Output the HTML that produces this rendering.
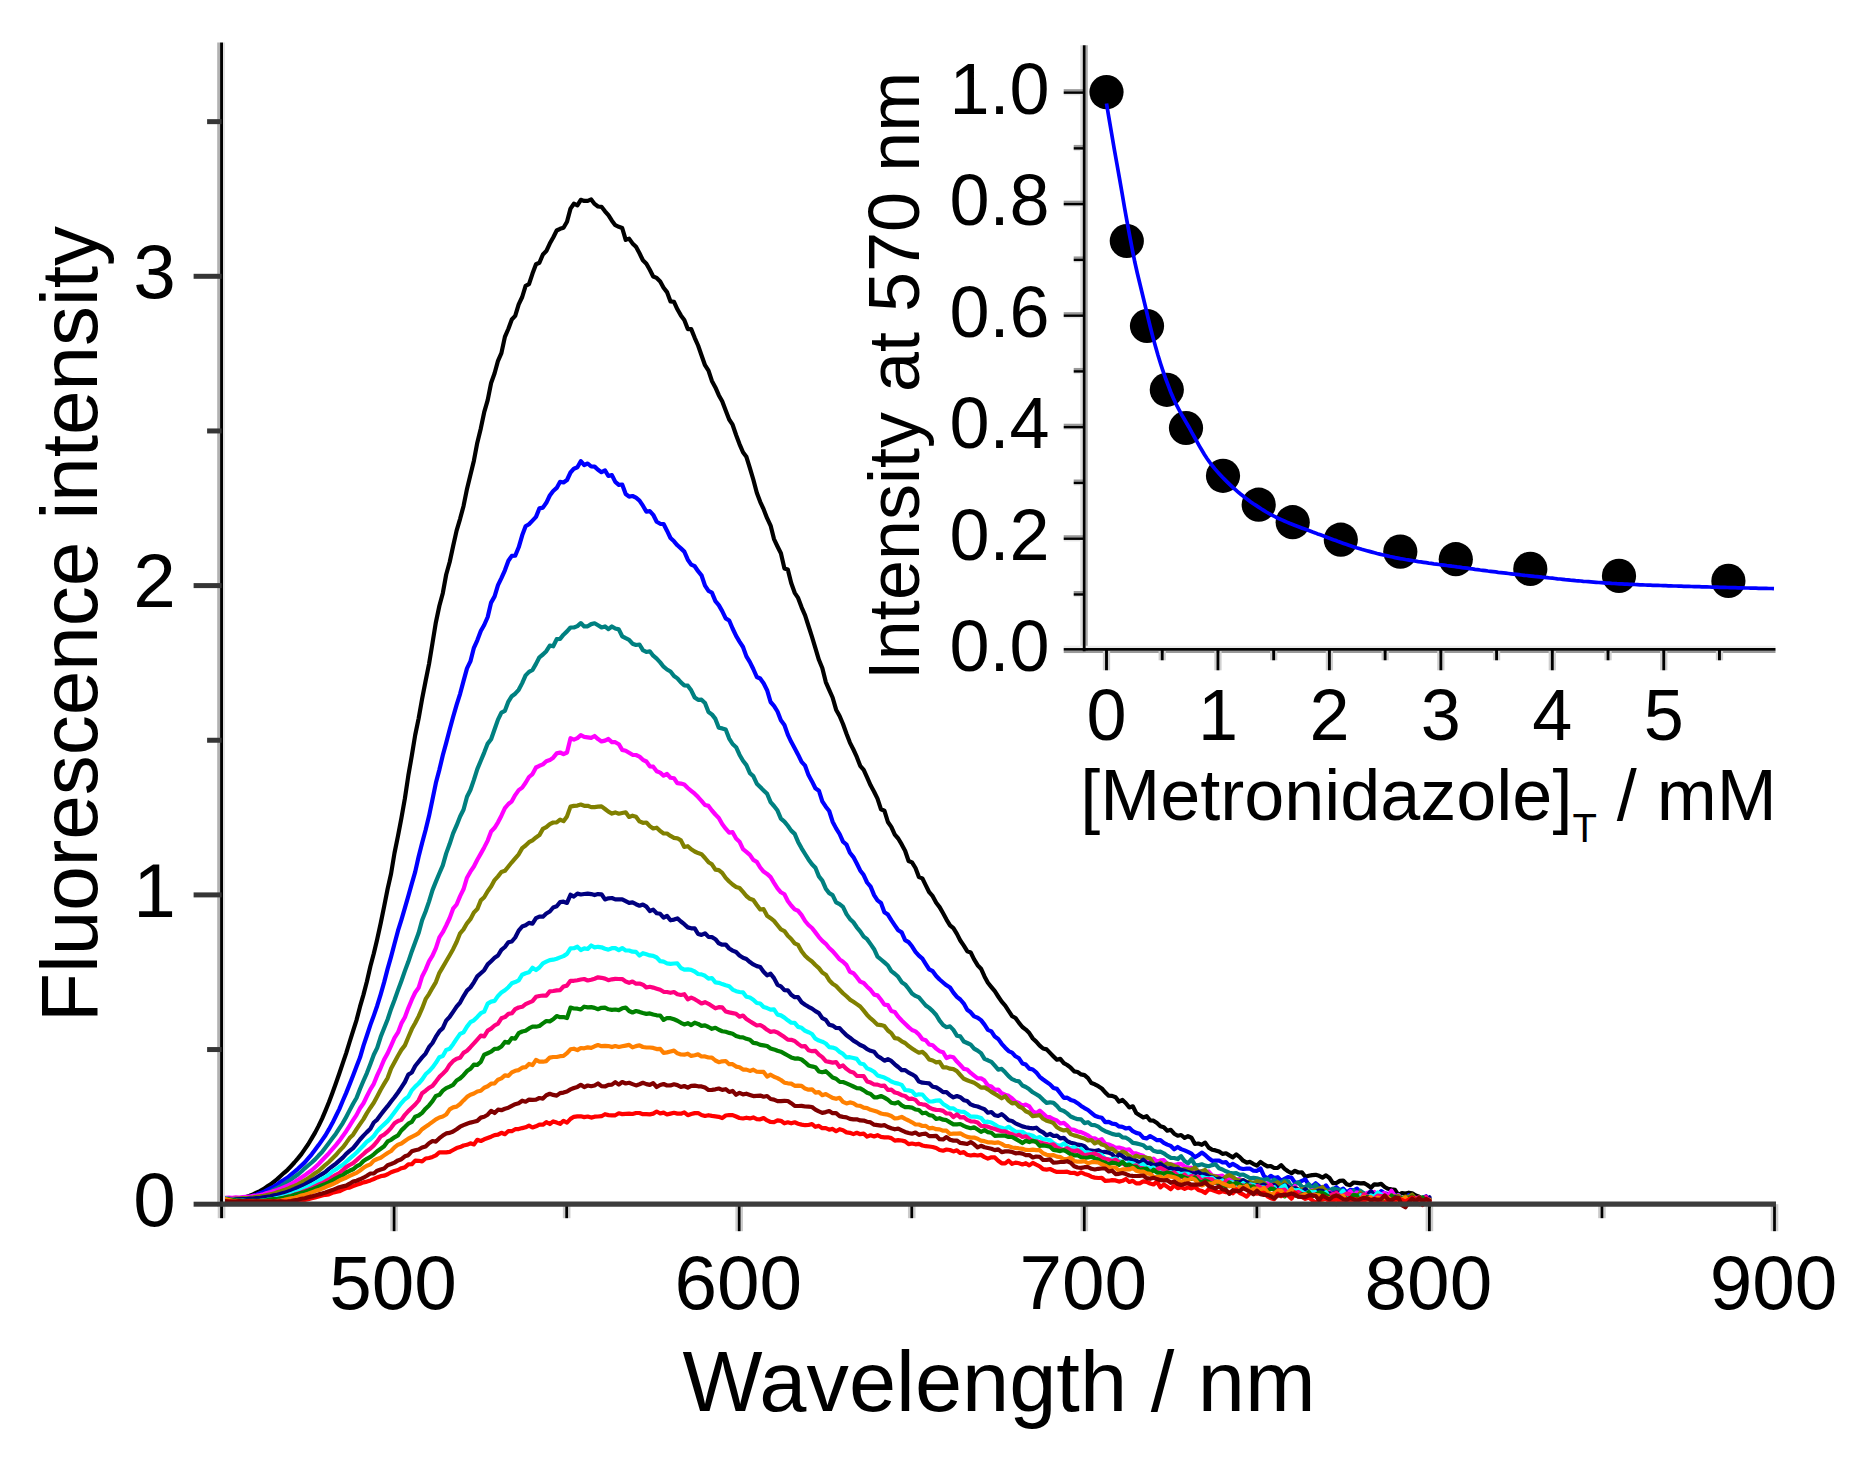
<!DOCTYPE html>
<html lang="en"><head><meta charset="utf-8"><title>Fluorescence quenching</title>
<style>html,body{margin:0;padding:0;background:#fff}svg{display:block}</style></head>
<body>
<svg width="1861" height="1462" viewBox="0 0 1861 1462" font-family='"Liberation Sans", Arial, Helvetica, sans-serif' fill="#000">
<rect width="1861" height="1462" fill="#fff"/>
<g fill="none" stroke-width="4.2" stroke-linejoin="round" stroke-linecap="round">
<polyline stroke="#000000" points="222.0,1198.8 225.4,1199.2 228.9,1199.3 232.3,1199.4 235.8,1199.4 239.2,1198.7 242.7,1198.0 246.2,1197.0 249.6,1195.8 253.1,1194.4 256.5,1192.6 259.9,1191.1 263.4,1189.1 266.9,1186.6 270.3,1184.6 273.8,1181.8 277.2,1179.1 280.6,1176.0 284.1,1172.8 287.6,1169.8 291.0,1166.2 294.4,1162.5 297.9,1158.4 301.4,1154.1 304.8,1149.1 308.2,1144.3 311.7,1138.4 315.1,1132.6 318.6,1125.9 322.1,1118.6 325.5,1110.6 328.9,1102.3 332.4,1092.9 335.9,1083.3 339.3,1073.5 342.8,1063.1 346.2,1053.1 349.6,1042.0 353.1,1030.8 356.6,1019.8 360.0,1006.7 363.5,994.6 366.9,981.5 370.4,966.3 373.8,953.5 377.2,939.3 380.7,923.2 384.1,906.7 387.6,889.0 391.1,873.5 394.5,853.0 398.0,835.8 401.4,818.1 404.9,798.4 408.3,775.7 411.8,755.7 415.2,735.0 418.6,718.6 422.1,698.8 425.6,681.0 429.0,664.1 432.5,643.0 435.9,622.2 439.4,605.8 442.8,593.2 446.2,574.5 449.7,562.0 453.1,546.2 456.6,530.6 460.1,518.8 463.5,506.2 467.0,488.9 470.4,475.0 473.9,460.7 477.3,442.7 480.8,428.4 484.2,412.2 487.7,400.1 491.1,383.0 494.6,373.2 498.0,360.8 501.4,353.1 504.9,336.9 508.4,328.7 511.8,319.5 515.2,315.9 518.7,304.4 522.2,297.0 525.6,285.8 529.0,284.1 532.5,273.6 536.0,264.2 539.4,262.8 542.9,254.5 546.3,251.1 549.8,243.6 553.2,237.5 556.7,230.5 560.1,228.8 563.5,227.7 567.0,221.7 570.5,208.6 573.9,203.7 577.4,205.3 580.8,199.8 584.2,200.9 587.7,200.9 591.2,199.4 594.6,203.9 598.0,206.5 601.5,206.8 605.0,211.3 608.4,215.2 611.9,220.7 615.3,225.2 618.8,226.8 622.2,228.0 625.7,239.9 629.1,238.6 632.5,243.4 636.0,246.8 639.5,253.3 642.9,260.2 646.4,263.7 649.8,269.8 653.2,276.5 656.7,277.9 660.2,281.4 663.6,287.7 667.0,292.1 670.5,301.4 674.0,301.8 677.4,309.3 680.9,315.4 684.3,320.0 687.8,329.1 691.2,329.1 694.7,337.8 698.1,345.5 701.5,355.2 705.0,365.2 708.5,370.7 711.9,380.9 715.4,387.4 718.8,395.2 722.2,401.3 725.7,410.6 729.2,419.5 732.6,424.7 736.1,435.0 739.5,444.1 743.0,452.3 746.4,456.8 749.9,468.1 753.3,479.5 756.8,492.7 760.2,501.8 763.6,509.2 767.1,518.2 770.6,525.6 774.0,539.1 777.5,546.5 780.9,553.3 784.4,568.4 787.8,569.5 791.2,583.0 794.7,592.8 798.1,597.9 801.6,607.3 805.1,615.4 808.5,626.0 812.0,636.9 815.4,648.1 818.9,659.8 822.3,668.0 825.8,682.1 829.2,689.9 832.6,697.5 836.1,709.7 839.6,716.0 843.0,724.0 846.5,733.8 849.9,742.6 853.4,749.5 856.8,756.9 860.2,765.8 863.7,769.8 867.1,777.3 870.6,785.3 874.1,791.7 877.5,798.6 881.0,809.3 884.4,810.7 887.9,822.0 891.3,826.9 894.8,834.6 898.2,838.5 901.7,844.4 905.1,850.7 908.6,861.0 912.0,862.4 915.5,868.0 918.9,877.1 922.4,878.4 925.8,885.4 929.2,892.2 932.7,896.2 936.2,902.7 939.6,907.1 943.1,913.3 946.5,919.6 950.0,925.3 953.4,928.2 956.9,933.9 960.3,940.5 963.8,945.7 967.2,951.2 970.7,952.5 974.1,959.4 977.6,965.2 981.0,968.7 984.5,976.4 987.9,982.7 991.4,987.1 994.8,991.2 998.2,996.5 1001.7,1001.7 1005.2,1005.7 1008.6,1010.9 1012.1,1016.2 1015.5,1018.0 1019.0,1022.9 1022.4,1027.0 1025.8,1029.6 1029.3,1033.1 1032.8,1038.5 1036.2,1041.6 1039.7,1045.6 1043.1,1048.5 1046.6,1049.4 1050.0,1052.9 1053.5,1056.4 1056.9,1059.7 1060.3,1058.9 1063.8,1063.1 1067.2,1065.0 1070.7,1067.7 1074.2,1071.4 1077.6,1072.0 1081.1,1074.4 1084.5,1075.1 1088.0,1078.1 1091.4,1083.1 1094.8,1084.3 1098.3,1086.2 1101.8,1088.5 1105.2,1092.4 1108.7,1095.7 1112.1,1095.9 1115.6,1097.2 1119.0,1101.6 1122.5,1100.0 1125.9,1103.2 1129.3,1107.4 1132.8,1106.3 1136.2,1113.0 1139.7,1115.3 1143.2,1117.4 1146.6,1116.2 1150.1,1120.4 1153.5,1120.7 1157.0,1123.0 1160.4,1126.2 1163.8,1127.2 1167.3,1130.7 1170.8,1129.8 1174.2,1133.7 1177.7,1135.7 1181.1,1135.0 1184.6,1137.9 1188.0,1136.2 1191.5,1137.7 1194.9,1144.0 1198.3,1143.5 1201.8,1144.8 1205.2,1142.6 1208.7,1147.6 1212.2,1149.8 1215.6,1150.4 1219.1,1151.5 1222.5,1153.9 1226.0,1153.3 1229.4,1155.4 1232.8,1157.3 1236.3,1154.4 1239.8,1157.1 1243.2,1160.7 1246.7,1162.6 1250.1,1161.9 1253.5,1164.1 1257.0,1165.5 1260.5,1162.0 1263.9,1164.4 1267.4,1166.4 1270.8,1166.0 1274.2,1168.0 1277.7,1167.9 1281.2,1165.2 1284.6,1168.9 1288.0,1171.3 1291.5,1173.3 1295.0,1170.8 1298.4,1172.5 1301.9,1172.4 1305.3,1176.8 1308.8,1175.8 1312.2,1175.1 1315.7,1174.8 1319.1,1175.8 1322.5,1177.6 1326.0,1175.4 1329.5,1178.0 1332.9,1183.2 1336.4,1183.0 1339.8,1180.9 1343.2,1180.5 1346.7,1184.2 1350.2,1185.2 1353.6,1182.5 1357.0,1182.8 1360.5,1183.3 1364.0,1183.1 1367.4,1185.0 1370.9,1187.7 1374.3,1184.3 1377.8,1184.6 1381.2,1183.9 1384.7,1187.0 1388.1,1188.8 1391.5,1189.4 1395.0,1189.8 1398.5,1195.1 1401.9,1193.0 1405.4,1193.5 1408.8,1192.7 1412.2,1193.3 1415.7,1195.5 1419.2,1196.8 1422.6,1199.7 1426.0,1197.3 1429.5,1199.1"/>
<polyline stroke="#0000ff" points="222.0,1198.9 225.4,1199.5 228.9,1199.4 232.3,1199.3 235.8,1199.3 239.2,1198.9 242.7,1198.2 246.2,1197.6 249.6,1196.7 253.1,1195.7 256.5,1194.7 259.9,1193.2 263.4,1192.0 266.9,1190.2 270.3,1188.4 273.8,1186.6 277.2,1184.4 280.6,1181.9 284.1,1179.8 287.6,1177.5 291.0,1174.7 294.4,1171.8 297.9,1168.8 301.4,1165.6 304.8,1162.4 308.2,1158.4 311.7,1154.3 315.1,1149.8 318.6,1145.1 322.1,1140.1 325.5,1135.2 328.9,1129.4 332.4,1123.1 335.9,1116.0 339.3,1109.1 342.8,1100.8 346.2,1092.9 349.6,1084.4 353.1,1075.4 356.6,1066.2 360.0,1057.6 363.5,1045.6 366.9,1035.5 370.4,1024.9 373.8,1015.6 377.2,1005.7 380.7,994.3 384.1,982.4 387.6,968.9 391.1,956.6 394.5,943.8 398.0,930.7 401.4,919.8 404.9,907.8 408.3,896.1 411.8,883.6 415.2,871.9 418.6,856.7 422.1,843.0 425.6,830.0 429.0,816.1 432.5,799.4 435.9,782.8 439.4,769.6 442.8,755.3 446.2,742.9 449.7,729.5 453.1,717.0 456.6,704.9 460.1,693.8 463.5,681.1 467.0,668.4 470.4,661.4 473.9,647.8 477.3,640.3 480.8,631.1 484.2,625.0 487.7,617.0 491.1,602.6 494.6,596.4 498.0,585.2 501.4,578.1 504.9,570.3 508.4,560.8 511.8,555.9 515.2,555.7 518.7,547.3 522.2,535.3 525.6,526.3 529.0,524.2 532.5,520.6 536.0,516.9 539.4,508.4 542.9,507.6 546.3,502.8 549.8,495.5 553.2,491.0 556.7,487.9 560.1,481.8 563.5,482.5 567.0,480.0 570.5,472.5 573.9,468.7 577.4,467.3 580.8,461.2 584.2,465.0 587.7,463.5 591.2,466.5 594.6,466.6 598.0,469.8 601.5,472.2 605.0,470.4 608.4,476.0 611.9,475.1 615.3,481.9 618.8,484.9 622.2,484.5 625.7,494.0 629.1,496.6 632.5,496.0 636.0,497.7 639.5,500.6 642.9,505.7 646.4,511.7 649.8,511.1 653.2,514.8 656.7,521.8 660.2,523.8 663.6,524.0 667.0,530.7 670.5,538.0 674.0,541.3 677.4,545.3 680.9,548.4 684.3,551.6 687.8,559.7 691.2,564.6 694.7,566.2 698.1,571.2 701.5,575.3 705.0,585.6 708.5,590.9 711.9,592.6 715.4,601.1 718.8,605.1 722.2,611.1 725.7,618.4 729.2,620.5 732.6,628.5 736.1,635.9 739.5,641.6 743.0,647.0 746.4,656.4 749.9,662.1 753.3,669.0 756.8,677.0 760.2,678.5 763.6,683.3 767.1,690.2 770.6,702.0 774.0,705.9 777.5,711.5 780.9,720.2 784.4,725.0 787.8,734.6 791.2,741.8 794.7,748.2 798.1,754.7 801.6,761.9 805.1,765.7 808.5,775.1 812.0,781.4 815.4,788.3 818.9,790.7 822.3,801.3 825.8,806.7 829.2,811.0 832.6,821.7 836.1,828.4 839.6,834.0 843.0,841.7 846.5,844.6 849.9,852.7 853.4,857.1 856.8,863.5 860.2,870.4 863.7,875.1 867.1,882.5 870.6,886.6 874.1,895.1 877.5,900.4 881.0,903.0 884.4,912.2 887.9,914.6 891.3,920.2 894.8,925.4 898.2,930.3 901.7,932.4 905.1,940.1 908.6,942.1 912.0,946.3 915.5,951.8 918.9,955.7 922.4,958.7 925.8,964.1 929.2,969.4 932.7,971.2 936.2,976.0 939.6,979.5 943.1,982.5 946.5,985.3 950.0,987.5 953.4,992.6 956.9,996.8 960.3,999.5 963.8,1003.6 967.2,1009.7 970.7,1012.3 974.1,1016.4 977.6,1017.7 981.0,1020.1 984.5,1024.6 987.9,1029.9 991.4,1031.4 994.8,1036.6 998.2,1038.9 1001.7,1043.8 1005.2,1047.7 1008.6,1051.1 1012.1,1052.6 1015.5,1056.3 1019.0,1058.3 1022.4,1063.4 1025.8,1064.6 1029.3,1068.6 1032.8,1069.5 1036.2,1072.3 1039.7,1076.8 1043.1,1079.5 1046.6,1082.0 1050.0,1084.4 1053.5,1088.0 1056.9,1088.9 1060.3,1093.2 1063.8,1097.8 1067.2,1097.7 1070.7,1099.9 1074.2,1101.0 1077.6,1103.2 1081.1,1105.9 1084.5,1108.1 1088.0,1110.0 1091.4,1112.9 1094.8,1115.7 1098.3,1117.0 1101.8,1117.7 1105.2,1122.1 1108.7,1121.8 1112.1,1123.7 1115.6,1124.1 1119.0,1126.4 1122.5,1126.9 1125.9,1128.5 1129.3,1127.9 1132.8,1131.2 1136.2,1132.9 1139.7,1133.8 1143.2,1137.7 1146.6,1138.4 1150.1,1136.1 1153.5,1138.0 1157.0,1140.2 1160.4,1140.1 1163.8,1142.9 1167.3,1144.6 1170.8,1145.9 1174.2,1149.3 1177.7,1147.0 1181.1,1149.1 1184.6,1150.4 1188.0,1151.9 1191.5,1153.6 1194.9,1157.3 1198.3,1155.2 1201.8,1152.6 1205.2,1154.9 1208.7,1158.3 1212.2,1160.8 1215.6,1160.5 1219.1,1160.7 1222.5,1162.5 1226.0,1162.1 1229.4,1165.8 1232.8,1163.9 1236.3,1165.8 1239.8,1168.2 1243.2,1169.0 1246.7,1168.7 1250.1,1168.7 1253.5,1170.7 1257.0,1170.9 1260.5,1168.4 1263.9,1175.9 1267.4,1178.7 1270.8,1175.9 1274.2,1178.0 1277.7,1177.2 1281.2,1180.8 1284.6,1178.9 1288.0,1177.0 1291.5,1177.7 1295.0,1182.6 1298.4,1182.6 1301.9,1180.8 1305.3,1179.3 1308.8,1185.0 1312.2,1186.4 1315.7,1183.3 1319.1,1186.1 1322.5,1188.5 1326.0,1185.4 1329.5,1190.6 1332.9,1190.2 1336.4,1187.2 1339.8,1190.3 1343.2,1188.7 1346.7,1192.7 1350.2,1189.9 1353.6,1190.3 1357.0,1188.6 1360.5,1192.4 1364.0,1193.8 1367.4,1193.8 1370.9,1191.8 1374.3,1195.5 1377.8,1195.3 1381.2,1191.1 1384.7,1193.2 1388.1,1194.1 1391.5,1197.1 1395.0,1195.0 1398.5,1199.1 1401.9,1200.9 1405.4,1200.2 1408.8,1195.2 1412.2,1197.2 1415.7,1200.4 1419.2,1199.8 1422.6,1198.0 1426.0,1196.3 1429.5,1202.5"/>
<polyline stroke="#008080" points="222.0,1198.8 225.4,1199.1 228.9,1199.7 232.3,1200.2 235.8,1200.2 239.2,1199.9 242.7,1199.7 246.2,1199.1 249.6,1198.9 253.1,1197.6 256.5,1196.6 259.9,1196.0 263.4,1194.7 266.9,1193.3 270.3,1191.7 273.8,1189.9 277.2,1188.2 280.6,1186.3 284.1,1184.0 287.6,1181.6 291.0,1179.5 294.4,1176.9 297.9,1174.5 301.4,1171.5 304.8,1168.3 308.2,1165.5 311.7,1162.5 315.1,1159.4 318.6,1155.6 322.1,1152.1 325.5,1147.6 328.9,1142.9 332.4,1138.3 335.9,1133.7 339.3,1128.4 342.8,1123.1 346.2,1116.9 349.6,1110.4 353.1,1103.7 356.6,1097.8 360.0,1089.0 363.5,1080.7 366.9,1073.1 370.4,1064.0 373.8,1054.8 377.2,1047.9 380.7,1036.8 384.1,1028.2 387.6,1019.5 391.1,1008.9 394.5,1000.0 398.0,990.1 401.4,980.9 404.9,970.9 408.3,961.8 411.8,951.4 415.2,942.3 418.6,933.1 422.1,920.3 425.6,911.5 429.0,901.6 432.5,890.1 435.9,881.6 439.4,873.2 442.8,865.4 446.2,853.4 449.7,843.8 453.1,833.4 456.6,825.4 460.1,816.5 463.5,809.8 467.0,796.7 470.4,790.0 473.9,779.9 477.3,769.1 480.8,760.7 484.2,752.6 487.7,743.6 491.1,739.2 494.6,729.3 498.0,719.6 501.4,712.6 504.9,710.8 508.4,701.6 511.8,696.2 515.2,693.7 518.7,689.8 522.2,683.1 525.6,675.4 529.0,671.9 532.5,670.0 536.0,663.9 539.4,657.3 542.9,654.5 546.3,651.2 549.8,645.6 553.2,646.3 556.7,639.2 560.1,638.8 563.5,634.7 567.0,631.4 570.5,627.5 573.9,627.5 577.4,626.1 580.8,623.1 584.2,626.4 587.7,626.3 591.2,624.1 594.6,623.3 598.0,625.3 601.5,627.4 605.0,626.4 608.4,629.2 611.9,626.5 615.3,628.5 618.8,629.4 622.2,636.3 625.7,638.2 629.1,639.8 632.5,643.7 636.0,645.0 639.5,644.5 642.9,650.1 646.4,652.0 649.8,651.3 653.2,655.7 656.7,658.6 660.2,662.4 663.6,666.7 667.0,669.5 670.5,671.5 674.0,676.0 677.4,678.4 680.9,682.4 684.3,685.3 687.8,685.7 691.2,690.3 694.7,697.5 698.1,699.8 701.5,699.7 705.0,703.0 708.5,712.1 711.9,714.4 715.4,718.9 718.8,727.7 722.2,728.4 725.7,729.6 729.2,738.6 732.6,744.0 736.1,747.2 739.5,754.7 743.0,760.7 746.4,765.1 749.9,773.2 753.3,776.1 756.8,783.7 760.2,787.1 763.6,790.4 767.1,793.8 770.6,802.1 774.0,806.0 777.5,810.6 780.9,818.6 784.4,821.6 787.8,825.8 791.2,830.6 794.7,833.9 798.1,841.9 801.6,848.3 805.1,854.0 808.5,859.4 812.0,864.2 815.4,867.8 818.9,876.4 822.3,880.6 825.8,888.7 829.2,893.1 832.6,895.1 836.1,902.4 839.6,904.2 843.0,906.9 846.5,914.1 849.9,918.9 853.4,922.3 856.8,927.3 860.2,931.3 863.7,936.6 867.1,939.2 870.6,944.1 874.1,949.2 877.5,956.6 881.0,959.5 884.4,962.4 887.9,965.5 891.3,971.1 894.8,973.7 898.2,976.8 901.7,982.2 905.1,984.4 908.6,988.8 912.0,993.5 915.5,995.9 918.9,997.4 922.4,1001.5 925.8,1005.5 929.2,1007.9 932.7,1011.1 936.2,1015.0 939.6,1020.7 943.1,1025.0 946.5,1027.2 950.0,1026.4 953.4,1029.9 956.9,1035.7 960.3,1036.4 963.8,1041.5 967.2,1043.0 970.7,1044.7 974.1,1048.6 977.6,1050.6 981.0,1053.1 984.5,1058.9 987.9,1060.3 991.4,1061.9 994.8,1065.7 998.2,1069.6 1001.7,1068.9 1005.2,1072.3 1008.6,1076.1 1012.1,1079.2 1015.5,1080.7 1019.0,1081.4 1022.4,1085.5 1025.8,1087.0 1029.3,1089.3 1032.8,1092.3 1036.2,1094.3 1039.7,1096.4 1043.1,1099.8 1046.6,1102.8 1050.0,1102.3 1053.5,1102.9 1056.9,1105.9 1060.3,1109.8 1063.8,1111.0 1067.2,1113.4 1070.7,1116.5 1074.2,1118.0 1077.6,1119.2 1081.1,1119.4 1084.5,1123.1 1088.0,1122.2 1091.4,1124.8 1094.8,1125.1 1098.3,1126.7 1101.8,1129.4 1105.2,1131.2 1108.7,1132.5 1112.1,1133.9 1115.6,1134.8 1119.0,1134.6 1122.5,1137.4 1125.9,1137.7 1129.3,1139.7 1132.8,1142.9 1136.2,1143.4 1139.7,1144.3 1143.2,1145.2 1146.6,1148.1 1150.1,1147.6 1153.5,1150.7 1157.0,1151.8 1160.4,1151.7 1163.8,1153.3 1167.3,1155.9 1170.8,1157.9 1174.2,1158.0 1177.7,1159.1 1181.1,1156.2 1184.6,1161.0 1188.0,1163.4 1191.5,1159.2 1194.9,1164.9 1198.3,1165.3 1201.8,1164.3 1205.2,1165.6 1208.7,1166.2 1212.2,1165.1 1215.6,1164.3 1219.1,1168.3 1222.5,1169.5 1226.0,1171.3 1229.4,1172.7 1232.8,1173.4 1236.3,1173.1 1239.8,1174.8 1243.2,1174.5 1246.7,1176.3 1250.1,1178.3 1253.5,1177.9 1257.0,1178.3 1260.5,1179.4 1263.9,1180.0 1267.4,1178.9 1270.8,1182.5 1274.2,1179.7 1277.7,1182.4 1281.2,1182.6 1284.6,1180.5 1288.0,1181.2 1291.5,1187.0 1295.0,1184.4 1298.4,1182.4 1301.9,1186.9 1305.3,1187.2 1308.8,1184.2 1312.2,1189.0 1315.7,1184.6 1319.1,1190.0 1322.5,1190.3 1326.0,1190.3 1329.5,1190.5 1332.9,1188.5 1336.4,1189.2 1339.8,1190.3 1343.2,1190.7 1346.7,1194.8 1350.2,1193.9 1353.6,1190.5 1357.0,1194.9 1360.5,1190.8 1364.0,1193.5 1367.4,1196.2 1370.9,1193.2 1374.3,1192.9 1377.8,1196.3 1381.2,1197.0 1384.7,1197.9 1388.1,1197.9 1391.5,1201.8 1395.0,1199.3 1398.5,1194.9 1401.9,1198.3 1405.4,1197.4 1408.8,1196.4 1412.2,1198.0 1415.7,1200.0 1419.2,1200.8 1422.6,1201.1 1426.0,1199.5 1429.5,1201.1"/>
<polyline stroke="#ff00ff" points="222.0,1197.6 225.4,1197.9 228.9,1197.6 232.3,1197.8 235.8,1197.4 239.2,1197.5 242.7,1197.2 246.2,1196.9 249.6,1196.7 253.1,1195.9 256.5,1195.6 259.9,1195.0 263.4,1194.2 266.9,1193.1 270.3,1192.4 273.8,1191.0 277.2,1190.0 280.6,1188.7 284.1,1187.2 287.6,1185.6 291.0,1184.0 294.4,1182.1 297.9,1179.9 301.4,1177.5 304.8,1175.3 308.2,1172.7 311.7,1170.3 315.1,1167.2 318.6,1164.0 322.1,1160.3 325.5,1156.7 328.9,1153.2 332.4,1149.2 335.9,1145.1 339.3,1140.9 342.8,1136.1 346.2,1131.2 349.6,1125.8 353.1,1120.2 356.6,1114.9 360.0,1108.3 363.5,1103.2 366.9,1096.3 370.4,1089.4 373.8,1083.8 377.2,1075.4 380.7,1067.8 384.1,1059.6 387.6,1053.4 391.1,1045.6 394.5,1037.9 398.0,1032.4 401.4,1023.4 404.9,1017.2 408.3,1008.1 411.8,999.7 415.2,992.5 418.6,987.8 422.1,976.5 425.6,969.6 429.0,961.4 432.5,955.7 435.9,948.2 439.4,937.4 442.8,932.2 446.2,925.5 449.7,918.0 453.1,908.7 456.6,904.5 460.1,896.1 463.5,889.3 467.0,877.7 470.4,871.7 473.9,866.5 477.3,859.7 480.8,853.6 484.2,847.4 487.7,840.6 491.1,831.5 494.6,827.8 498.0,822.3 501.4,815.7 504.9,808.2 508.4,804.0 511.8,801.3 515.2,795.1 518.7,790.1 522.2,787.6 525.6,782.8 529.0,777.0 532.5,774.1 536.0,767.5 539.4,765.8 542.9,764.4 546.3,761.3 549.8,760.1 553.2,757.7 556.7,753.4 560.1,752.5 563.5,754.2 567.0,752.5 570.5,738.2 573.9,739.6 577.4,738.1 580.8,735.2 584.2,736.8 587.7,737.3 591.2,737.8 594.6,736.0 598.0,739.1 601.5,741.4 605.0,740.6 608.4,739.0 611.9,742.1 615.3,742.2 618.8,744.2 622.2,749.9 625.7,750.7 629.1,752.8 632.5,754.8 636.0,755.0 639.5,756.6 642.9,759.8 646.4,761.5 649.8,766.3 653.2,766.7 656.7,771.2 660.2,772.6 663.6,775.7 667.0,774.0 670.5,777.7 674.0,778.3 677.4,783.2 680.9,783.6 684.3,784.6 687.8,788.0 691.2,790.8 694.7,793.7 698.1,797.1 701.5,800.8 705.0,805.0 708.5,805.9 711.9,810.5 715.4,814.5 718.8,817.9 722.2,824.1 725.7,828.7 729.2,832.7 732.6,832.2 736.1,838.5 739.5,841.7 743.0,849.2 746.4,851.9 749.9,854.9 753.3,859.9 756.8,861.8 760.2,867.5 763.6,871.6 767.1,873.9 770.6,877.1 774.0,882.8 777.5,888.3 780.9,892.3 784.4,894.3 787.8,901.0 791.2,905.5 794.7,909.4 798.1,910.8 801.6,915.1 805.1,921.0 808.5,925.0 812.0,928.0 815.4,932.4 818.9,937.1 822.3,940.8 825.8,943.8 829.2,948.0 832.6,951.1 836.1,955.2 839.6,959.4 843.0,961.8 846.5,965.1 849.9,971.8 853.4,973.2 856.8,977.2 860.2,981.6 863.7,983.0 867.1,986.7 870.6,989.9 874.1,994.6 877.5,995.4 881.0,999.8 884.4,1004.6 887.9,1005.1 891.3,1011.0 894.8,1012.0 898.2,1016.7 901.7,1020.5 905.1,1023.8 908.6,1027.1 912.0,1030.0 915.5,1031.4 918.9,1034.5 922.4,1039.2 925.8,1040.2 929.2,1044.5 932.7,1045.3 936.2,1048.6 939.6,1051.2 943.1,1052.2 946.5,1058.0 950.0,1056.5 953.4,1057.2 956.9,1061.6 960.3,1065.0 963.8,1068.9 967.2,1069.5 970.7,1072.9 974.1,1075.6 977.6,1078.4 981.0,1078.3 984.5,1080.6 987.9,1085.5 991.4,1086.6 994.8,1089.8 998.2,1089.5 1001.7,1093.3 1005.2,1094.7 1008.6,1095.8 1012.1,1098.5 1015.5,1101.8 1019.0,1103.0 1022.4,1105.8 1025.8,1104.5 1029.3,1106.4 1032.8,1111.5 1036.2,1113.2 1039.7,1110.7 1043.1,1113.6 1046.6,1116.8 1050.0,1117.2 1053.5,1119.3 1056.9,1120.5 1060.3,1123.5 1063.8,1122.9 1067.2,1125.7 1070.7,1129.4 1074.2,1129.9 1077.6,1131.5 1081.1,1132.1 1084.5,1133.6 1088.0,1135.3 1091.4,1138.0 1094.8,1138.3 1098.3,1140.5 1101.8,1139.2 1105.2,1143.7 1108.7,1144.5 1112.1,1145.9 1115.6,1147.9 1119.0,1147.5 1122.5,1148.5 1125.9,1149.9 1129.3,1149.4 1132.8,1153.1 1136.2,1153.4 1139.7,1154.8 1143.2,1155.7 1146.6,1158.9 1150.1,1160.3 1153.5,1158.6 1157.0,1161.9 1160.4,1160.3 1163.8,1160.1 1167.3,1164.0 1170.8,1164.2 1174.2,1165.1 1177.7,1164.2 1181.1,1163.9 1184.6,1166.5 1188.0,1167.6 1191.5,1167.9 1194.9,1171.9 1198.3,1172.0 1201.8,1171.1 1205.2,1173.7 1208.7,1171.5 1212.2,1175.7 1215.6,1176.0 1219.1,1176.0 1222.5,1175.7 1226.0,1178.9 1229.4,1179.1 1232.8,1178.4 1236.3,1179.3 1239.8,1179.1 1243.2,1182.0 1246.7,1183.5 1250.1,1187.3 1253.5,1185.8 1257.0,1184.5 1260.5,1186.6 1263.9,1185.5 1267.4,1183.5 1270.8,1186.0 1274.2,1184.4 1277.7,1184.7 1281.2,1186.5 1284.6,1185.9 1288.0,1185.8 1291.5,1190.4 1295.0,1186.0 1298.4,1191.7 1301.9,1189.4 1305.3,1190.8 1308.8,1191.4 1312.2,1190.3 1315.7,1191.5 1319.1,1191.7 1322.5,1191.7 1326.0,1193.6 1329.5,1192.1 1332.9,1194.6 1336.4,1192.1 1339.8,1195.3 1343.2,1193.3 1346.7,1194.6 1350.2,1191.2 1353.6,1195.6 1357.0,1192.4 1360.5,1195.1 1364.0,1198.4 1367.4,1192.9 1370.9,1192.9 1374.3,1191.9 1377.8,1196.3 1381.2,1194.5 1384.7,1193.0 1388.1,1195.8 1391.5,1190.8 1395.0,1196.6 1398.5,1195.3 1401.9,1199.1 1405.4,1199.7 1408.8,1199.1 1412.2,1198.6 1415.7,1198.0 1419.2,1197.6 1422.6,1203.6 1426.0,1200.0 1429.5,1200.9"/>
<polyline stroke="#808000" points="222.0,1199.0 225.4,1198.9 228.9,1199.0 232.3,1198.9 235.8,1198.7 239.2,1198.5 242.7,1198.0 246.2,1198.0 249.6,1197.8 253.1,1197.4 256.5,1196.8 259.9,1196.4 263.4,1195.8 266.9,1195.0 270.3,1194.2 273.8,1193.6 277.2,1192.3 280.6,1191.3 284.1,1190.1 287.6,1188.8 291.0,1187.2 294.4,1185.9 297.9,1184.3 301.4,1182.3 304.8,1180.2 308.2,1178.2 311.7,1175.8 315.1,1173.3 318.6,1171.0 322.1,1167.9 325.5,1164.8 328.9,1162.0 332.4,1158.6 335.9,1155.1 339.3,1151.0 342.8,1147.4 346.2,1142.9 349.6,1138.1 353.1,1134.7 356.6,1129.1 360.0,1124.1 363.5,1119.1 366.9,1113.1 370.4,1107.7 373.8,1102.8 377.2,1096.4 380.7,1089.7 384.1,1083.9 387.6,1078.1 391.1,1068.6 394.5,1062.2 398.0,1055.7 401.4,1049.9 404.9,1045.4 408.3,1037.2 411.8,1029.1 415.2,1023.0 418.6,1016.4 422.1,1008.4 425.6,999.2 429.0,994.1 432.5,987.8 435.9,982.1 439.4,972.8 442.8,967.1 446.2,961.2 449.7,955.2 453.1,949.2 456.6,942.0 460.1,933.3 463.5,929.4 467.0,923.3 470.4,919.2 473.9,912.5 477.3,909.1 480.8,900.4 484.2,897.2 487.7,891.2 491.1,886.6 494.6,880.1 498.0,876.4 501.4,872.0 504.9,870.8 508.4,866.5 511.8,862.3 515.2,858.3 518.7,854.3 522.2,848.1 525.6,845.5 529.0,842.2 532.5,840.3 536.0,837.4 539.4,835.1 542.9,828.9 546.3,827.1 549.8,824.1 553.2,822.5 556.7,822.4 560.1,819.7 563.5,821.2 567.0,816.4 570.5,806.6 573.9,805.9 577.4,805.6 580.8,804.6 584.2,805.8 587.7,805.8 591.2,807.1 594.6,807.1 598.0,806.7 601.5,806.4 605.0,809.0 608.4,811.7 611.9,813.6 615.3,812.4 618.8,813.7 622.2,813.0 625.7,812.3 629.1,816.9 632.5,815.7 636.0,816.7 639.5,821.4 642.9,822.8 646.4,822.5 649.8,826.1 653.2,828.5 656.7,827.7 660.2,831.1 663.6,833.4 667.0,833.5 670.5,835.9 674.0,837.9 677.4,838.3 680.9,840.4 684.3,847.0 687.8,846.2 691.2,849.3 694.7,851.5 698.1,853.1 701.5,854.2 705.0,858.0 708.5,862.2 711.9,864.3 715.4,869.7 718.8,870.1 722.2,872.9 725.7,877.9 729.2,881.5 732.6,884.5 736.1,886.9 739.5,888.0 743.0,891.9 746.4,896.0 749.9,898.8 753.3,900.0 756.8,905.0 760.2,909.5 763.6,909.1 767.1,915.8 770.6,918.2 774.0,920.9 777.5,925.3 780.9,929.4 784.4,931.1 787.8,935.8 791.2,939.0 794.7,943.3 798.1,944.9 801.6,951.3 805.1,955.8 808.5,958.9 812.0,961.5 815.4,965.0 818.9,968.1 822.3,972.5 825.8,974.7 829.2,980.2 832.6,983.8 836.1,986.0 839.6,989.7 843.0,993.2 846.5,996.3 849.9,999.6 853.4,1001.7 856.8,1004.1 860.2,1006.5 863.7,1010.7 867.1,1014.9 870.6,1018.4 874.1,1021.4 877.5,1024.7 881.0,1025.1 884.4,1026.1 887.9,1030.5 891.3,1033.1 894.8,1038.2 898.2,1038.7 901.7,1041.3 905.1,1043.0 908.6,1046.1 912.0,1048.4 915.5,1050.7 918.9,1052.7 922.4,1051.9 925.8,1054.9 929.2,1059.4 932.7,1060.5 936.2,1062.4 939.6,1061.8 943.1,1067.4 946.5,1067.4 950.0,1068.7 953.4,1069.1 956.9,1071.1 960.3,1075.0 963.8,1078.8 967.2,1080.2 970.7,1081.6 974.1,1082.8 977.6,1085.0 981.0,1087.6 984.5,1087.4 987.9,1089.4 991.4,1091.9 994.8,1093.9 998.2,1095.9 1001.7,1098.3 1005.2,1096.2 1008.6,1100.6 1012.1,1103.4 1015.5,1102.9 1019.0,1106.5 1022.4,1108.0 1025.8,1111.3 1029.3,1112.8 1032.8,1116.2 1036.2,1115.7 1039.7,1115.1 1043.1,1118.8 1046.6,1120.8 1050.0,1121.6 1053.5,1123.1 1056.9,1127.3 1060.3,1129.3 1063.8,1130.4 1067.2,1129.9 1070.7,1134.1 1074.2,1135.4 1077.6,1136.3 1081.1,1137.4 1084.5,1138.5 1088.0,1140.5 1091.4,1140.0 1094.8,1143.4 1098.3,1141.6 1101.8,1144.6 1105.2,1145.6 1108.7,1149.1 1112.1,1148.7 1115.6,1151.5 1119.0,1153.3 1122.5,1151.5 1125.9,1153.1 1129.3,1155.8 1132.8,1158.3 1136.2,1155.8 1139.7,1157.1 1143.2,1157.2 1146.6,1157.7 1150.1,1158.3 1153.5,1163.8 1157.0,1166.8 1160.4,1162.6 1163.8,1166.0 1167.3,1163.4 1170.8,1164.4 1174.2,1166.0 1177.7,1167.0 1181.1,1169.9 1184.6,1169.0 1188.0,1169.5 1191.5,1169.5 1194.9,1167.7 1198.3,1171.7 1201.8,1171.3 1205.2,1170.0 1208.7,1174.3 1212.2,1175.9 1215.6,1176.5 1219.1,1177.8 1222.5,1179.4 1226.0,1176.5 1229.4,1175.1 1232.8,1177.0 1236.3,1179.7 1239.8,1180.8 1243.2,1180.0 1246.7,1182.0 1250.1,1181.9 1253.5,1183.0 1257.0,1181.2 1260.5,1181.8 1263.9,1183.2 1267.4,1186.2 1270.8,1186.0 1274.2,1184.1 1277.7,1182.4 1281.2,1186.7 1284.6,1182.3 1288.0,1187.2 1291.5,1188.7 1295.0,1187.8 1298.4,1189.9 1301.9,1189.4 1305.3,1189.4 1308.8,1190.9 1312.2,1191.2 1315.7,1190.0 1319.1,1188.8 1322.5,1187.0 1326.0,1191.1 1329.5,1195.3 1332.9,1194.3 1336.4,1196.7 1339.8,1194.1 1343.2,1195.4 1346.7,1194.0 1350.2,1195.1 1353.6,1195.1 1357.0,1196.2 1360.5,1192.7 1364.0,1199.2 1367.4,1194.7 1370.9,1193.7 1374.3,1195.1 1377.8,1196.3 1381.2,1196.3 1384.7,1198.3 1388.1,1200.2 1391.5,1196.7 1395.0,1196.3 1398.5,1196.2 1401.9,1198.6 1405.4,1196.6 1408.8,1197.2 1412.2,1194.8 1415.7,1198.6 1419.2,1204.2 1422.6,1202.8 1426.0,1199.3 1429.5,1202.9"/>
<polyline stroke="#000080" points="222.0,1198.7 225.4,1198.7 228.9,1198.8 232.3,1199.2 235.8,1199.3 239.2,1199.1 242.7,1199.2 246.2,1199.0 249.6,1198.7 253.1,1198.5 256.5,1198.1 259.9,1198.1 263.4,1197.3 266.9,1196.8 270.3,1196.3 273.8,1195.4 277.2,1194.7 280.6,1193.8 284.1,1192.9 287.6,1191.6 291.0,1190.4 294.4,1189.0 297.9,1187.4 301.4,1185.9 304.8,1184.4 308.2,1182.4 311.7,1180.4 315.1,1178.5 318.6,1176.3 322.1,1174.1 325.5,1171.9 328.9,1168.9 332.4,1166.3 335.9,1163.6 339.3,1160.7 342.8,1157.6 346.2,1153.8 349.6,1150.9 353.1,1148.1 356.6,1143.8 360.0,1139.5 363.5,1135.6 366.9,1132.1 370.4,1128.8 373.8,1122.5 377.2,1119.6 380.7,1114.8 384.1,1110.4 387.6,1106.2 391.1,1101.5 394.5,1097.3 398.0,1092.5 401.4,1087.3 404.9,1082.0 408.3,1074.6 411.8,1072.5 415.2,1066.0 418.6,1061.7 422.1,1057.4 425.6,1053.6 429.0,1047.2 432.5,1043.0 435.9,1036.7 439.4,1031.3 442.8,1028.1 446.2,1020.7 449.7,1016.8 453.1,1011.9 456.6,1006.7 460.1,1002.6 463.5,996.3 467.0,990.6 470.4,987.5 473.9,982.3 477.3,976.4 480.8,973.2 484.2,970.2 487.7,964.4 491.1,961.2 494.6,957.8 498.0,955.5 501.4,949.9 504.9,947.0 508.4,942.2 511.8,941.5 515.2,937.5 518.7,930.6 522.2,926.5 525.6,925.3 529.0,922.9 532.5,923.7 536.0,918.1 539.4,916.6 542.9,916.7 546.3,913.5 549.8,911.5 553.2,907.5 556.7,906.3 560.1,902.1 563.5,901.7 567.0,902.9 570.5,894.8 573.9,896.5 577.4,893.6 580.8,894.5 584.2,894.0 587.7,893.6 591.2,894.1 594.6,895.1 598.0,894.1 601.5,894.3 605.0,899.4 608.4,898.3 611.9,898.0 615.3,899.4 618.8,899.4 622.2,899.3 625.7,901.1 629.1,902.8 632.5,902.4 636.0,904.2 639.5,905.7 642.9,904.5 646.4,906.6 649.8,911.0 653.2,909.6 656.7,913.2 660.2,913.8 663.6,917.7 667.0,915.9 670.5,920.3 674.0,919.6 677.4,918.4 680.9,921.5 684.3,924.2 687.8,927.4 691.2,928.3 694.7,928.3 698.1,934.0 701.5,934.9 705.0,933.3 708.5,936.9 711.9,937.1 715.4,939.2 718.8,943.3 722.2,944.7 725.7,944.5 729.2,948.5 732.6,950.6 736.1,952.0 739.5,955.5 743.0,957.7 746.4,959.0 749.9,962.1 753.3,964.4 756.8,966.1 760.2,967.0 763.6,971.7 767.1,975.3 770.6,973.7 774.0,978.1 777.5,984.8 780.9,986.4 784.4,990.2 787.8,990.3 791.2,994.8 794.7,997.2 798.1,997.2 801.6,1002.2 805.1,1004.7 808.5,1006.8 812.0,1008.6 815.4,1011.1 818.9,1013.1 822.3,1018.2 825.8,1019.9 829.2,1024.7 832.6,1025.6 836.1,1027.9 839.6,1028.1 843.0,1031.8 846.5,1035.3 849.9,1037.7 853.4,1040.7 856.8,1042.6 860.2,1045.0 863.7,1046.5 867.1,1049.2 870.6,1050.8 874.1,1051.7 877.5,1056.0 881.0,1058.1 884.4,1060.7 887.9,1059.2 891.3,1060.9 894.8,1064.3 898.2,1067.0 901.7,1070.1 905.1,1070.1 908.6,1072.6 912.0,1074.3 915.5,1076.5 918.9,1081.6 922.4,1082.7 925.8,1083.0 929.2,1083.4 932.7,1086.7 936.2,1087.4 939.6,1089.5 943.1,1092.1 946.5,1092.1 950.0,1095.3 953.4,1097.4 956.9,1096.0 960.3,1097.2 963.8,1100.2 967.2,1101.0 970.7,1104.4 974.1,1105.8 977.6,1106.5 981.0,1107.9 984.5,1109.2 987.9,1112.7 991.4,1112.0 994.8,1115.3 998.2,1116.0 1001.7,1114.2 1005.2,1116.9 1008.6,1120.3 1012.1,1121.0 1015.5,1123.4 1019.0,1124.9 1022.4,1126.4 1025.8,1127.2 1029.3,1127.9 1032.8,1128.4 1036.2,1127.7 1039.7,1130.6 1043.1,1132.4 1046.6,1135.4 1050.0,1133.9 1053.5,1136.0 1056.9,1135.6 1060.3,1138.3 1063.8,1137.8 1067.2,1141.3 1070.7,1142.7 1074.2,1143.6 1077.6,1144.7 1081.1,1145.1 1084.5,1146.2 1088.0,1150.0 1091.4,1150.5 1094.8,1151.0 1098.3,1150.2 1101.8,1152.0 1105.2,1151.9 1108.7,1152.7 1112.1,1154.2 1115.6,1158.1 1119.0,1154.4 1122.5,1156.2 1125.9,1158.7 1129.3,1158.7 1132.8,1160.4 1136.2,1160.7 1139.7,1162.6 1143.2,1159.7 1146.6,1163.0 1150.1,1163.4 1153.5,1165.5 1157.0,1164.5 1160.4,1164.0 1163.8,1166.3 1167.3,1168.7 1170.8,1168.2 1174.2,1169.3 1177.7,1168.7 1181.1,1169.9 1184.6,1170.7 1188.0,1172.1 1191.5,1173.1 1194.9,1173.4 1198.3,1172.1 1201.8,1174.4 1205.2,1174.4 1208.7,1176.6 1212.2,1177.3 1215.6,1179.3 1219.1,1178.6 1222.5,1179.7 1226.0,1183.1 1229.4,1182.0 1232.8,1183.3 1236.3,1182.0 1239.8,1182.5 1243.2,1180.2 1246.7,1182.2 1250.1,1184.3 1253.5,1184.8 1257.0,1185.2 1260.5,1185.8 1263.9,1184.6 1267.4,1186.7 1270.8,1186.0 1274.2,1184.8 1277.7,1187.8 1281.2,1187.8 1284.6,1184.9 1288.0,1186.9 1291.5,1189.3 1295.0,1188.2 1298.4,1189.9 1301.9,1191.7 1305.3,1189.1 1308.8,1192.3 1312.2,1192.9 1315.7,1192.2 1319.1,1190.5 1322.5,1190.9 1326.0,1193.8 1329.5,1193.4 1332.9,1194.2 1336.4,1192.3 1339.8,1193.2 1343.2,1195.7 1346.7,1193.4 1350.2,1197.4 1353.6,1196.6 1357.0,1199.7 1360.5,1194.8 1364.0,1196.3 1367.4,1195.4 1370.9,1191.1 1374.3,1195.5 1377.8,1196.8 1381.2,1198.7 1384.7,1197.6 1388.1,1199.0 1391.5,1197.4 1395.0,1197.4 1398.5,1198.2 1401.9,1199.6 1405.4,1199.9 1408.8,1199.9 1412.2,1200.3 1415.7,1199.1 1419.2,1201.8 1422.6,1201.5 1426.0,1200.2 1429.5,1197.3"/>
<polyline stroke="#00ffff" points="222.0,1197.5 225.4,1198.3 228.9,1199.0 232.3,1199.7 235.8,1200.0 239.2,1200.7 242.7,1200.7 246.2,1201.0 249.6,1201.1 253.1,1201.2 256.5,1201.1 259.9,1200.8 263.4,1200.3 266.9,1199.9 270.3,1199.3 273.8,1198.8 277.2,1198.0 280.6,1197.2 284.1,1196.4 287.6,1195.2 291.0,1194.1 294.4,1192.7 297.9,1191.4 301.4,1190.0 304.8,1188.3 308.2,1186.6 311.7,1185.0 315.1,1183.1 318.6,1181.1 322.1,1178.8 325.5,1177.0 328.9,1174.8 332.4,1171.4 335.9,1169.5 339.3,1166.9 342.8,1164.9 346.2,1161.7 349.6,1158.6 353.1,1155.7 356.6,1152.5 360.0,1149.1 363.5,1145.5 366.9,1141.7 370.4,1139.3 373.8,1136.0 377.2,1131.2 380.7,1127.5 384.1,1124.4 387.6,1121.1 391.1,1116.8 394.5,1112.2 398.0,1107.6 401.4,1103.1 404.9,1099.2 408.3,1096.7 411.8,1090.3 415.2,1086.6 418.6,1083.5 422.1,1079.5 425.6,1074.3 429.0,1071.3 432.5,1067.4 435.9,1062.8 439.4,1057.2 442.8,1056.0 446.2,1049.9 449.7,1048.8 453.1,1044.2 456.6,1038.9 460.1,1033.9 463.5,1032.4 467.0,1026.6 470.4,1022.2 473.9,1020.3 477.3,1016.9 480.8,1013.2 484.2,1011.7 487.7,1003.6 491.1,1001.6 494.6,1000.9 498.0,995.9 501.4,992.6 504.9,990.3 508.4,987.2 511.8,983.3 515.2,982.1 518.7,980.4 522.2,974.7 525.6,973.3 529.0,972.3 532.5,967.8 536.0,970.0 539.4,967.5 542.9,963.3 546.3,961.7 549.8,960.1 553.2,959.7 556.7,958.7 560.1,957.4 563.5,956.1 567.0,953.9 570.5,948.4 573.9,948.2 577.4,946.7 580.8,950.0 584.2,948.4 587.7,949.0 591.2,945.5 594.6,947.4 598.0,946.8 601.5,947.3 605.0,948.8 608.4,949.6 611.9,948.2 615.3,948.1 618.8,950.1 622.2,948.1 625.7,950.4 629.1,950.5 632.5,951.7 636.0,951.8 639.5,955.6 642.9,953.2 646.4,954.3 649.8,955.4 653.2,955.8 656.7,957.5 660.2,961.2 663.6,961.7 667.0,963.3 670.5,963.8 674.0,963.5 677.4,963.4 680.9,968.0 684.3,969.6 687.8,969.4 691.2,969.9 694.7,971.5 698.1,974.0 701.5,974.4 705.0,975.8 708.5,978.6 711.9,978.0 715.4,982.4 718.8,982.8 722.2,984.1 725.7,985.3 729.2,986.2 732.6,989.6 736.1,991.2 739.5,992.0 743.0,992.4 746.4,996.8 749.9,997.5 753.3,999.7 756.8,1003.0 760.2,1003.5 763.6,1006.9 767.1,1008.1 770.6,1009.7 774.0,1009.4 777.5,1014.6 780.9,1015.4 784.4,1017.6 787.8,1020.3 791.2,1022.7 794.7,1022.8 798.1,1026.9 801.6,1027.8 805.1,1030.8 808.5,1032.2 812.0,1034.0 815.4,1038.7 818.9,1040.6 822.3,1041.7 825.8,1043.5 829.2,1047.2 832.6,1047.6 836.1,1048.8 839.6,1051.9 843.0,1053.9 846.5,1057.4 849.9,1057.2 853.4,1058.0 856.8,1058.9 860.2,1063.5 863.7,1064.2 867.1,1068.4 870.6,1069.7 874.1,1071.8 877.5,1075.4 881.0,1076.6 884.4,1077.6 887.9,1079.3 891.3,1081.5 894.8,1082.9 898.2,1083.6 901.7,1084.9 905.1,1090.0 908.6,1090.4 912.0,1091.2 915.5,1095.2 918.9,1094.3 922.4,1094.5 925.8,1098.5 929.2,1101.5 932.7,1101.4 936.2,1100.6 939.6,1100.3 943.1,1103.9 946.5,1106.1 950.0,1108.4 953.4,1108.4 956.9,1110.9 960.3,1111.6 963.8,1111.8 967.2,1114.0 970.7,1116.6 974.1,1116.7 977.6,1116.9 981.0,1117.9 984.5,1122.1 987.9,1121.7 991.4,1122.5 994.8,1124.5 998.2,1126.7 1001.7,1127.7 1005.2,1128.9 1008.6,1126.8 1012.1,1129.4 1015.5,1131.5 1019.0,1131.9 1022.4,1131.8 1025.8,1134.3 1029.3,1134.7 1032.8,1135.8 1036.2,1138.2 1039.7,1137.1 1043.1,1139.2 1046.6,1139.5 1050.0,1140.1 1053.5,1143.2 1056.9,1145.0 1060.3,1145.9 1063.8,1143.5 1067.2,1146.4 1070.7,1148.3 1074.2,1147.0 1077.6,1150.3 1081.1,1148.6 1084.5,1152.1 1088.0,1152.3 1091.4,1153.3 1094.8,1153.9 1098.3,1154.0 1101.8,1155.0 1105.2,1158.4 1108.7,1159.5 1112.1,1159.1 1115.6,1158.7 1119.0,1160.7 1122.5,1162.1 1125.9,1164.6 1129.3,1162.7 1132.8,1163.3 1136.2,1165.8 1139.7,1165.9 1143.2,1164.2 1146.6,1167.2 1150.1,1168.6 1153.5,1167.5 1157.0,1171.3 1160.4,1170.7 1163.8,1170.8 1167.3,1172.3 1170.8,1172.6 1174.2,1173.1 1177.7,1173.1 1181.1,1174.2 1184.6,1173.7 1188.0,1173.9 1191.5,1175.7 1194.9,1176.9 1198.3,1180.4 1201.8,1176.8 1205.2,1177.7 1208.7,1178.5 1212.2,1177.9 1215.6,1180.7 1219.1,1181.9 1222.5,1180.4 1226.0,1187.1 1229.4,1182.0 1232.8,1182.3 1236.3,1185.6 1239.8,1185.8 1243.2,1183.0 1246.7,1185.9 1250.1,1184.3 1253.5,1185.1 1257.0,1186.3 1260.5,1187.0 1263.9,1187.6 1267.4,1188.6 1270.8,1187.9 1274.2,1187.0 1277.7,1192.4 1281.2,1187.6 1284.6,1185.4 1288.0,1192.4 1291.5,1189.0 1295.0,1190.4 1298.4,1190.0 1301.9,1191.6 1305.3,1194.1 1308.8,1191.6 1312.2,1192.3 1315.7,1192.2 1319.1,1195.2 1322.5,1194.4 1326.0,1192.2 1329.5,1197.1 1332.9,1194.5 1336.4,1198.1 1339.8,1194.0 1343.2,1190.8 1346.7,1197.7 1350.2,1196.8 1353.6,1195.2 1357.0,1198.3 1360.5,1195.2 1364.0,1196.1 1367.4,1197.7 1370.9,1195.4 1374.3,1196.9 1377.8,1192.4 1381.2,1194.7 1384.7,1197.2 1388.1,1197.7 1391.5,1200.9 1395.0,1200.8 1398.5,1201.4 1401.9,1198.9 1405.4,1198.7 1408.8,1202.4 1412.2,1200.1 1415.7,1200.5 1419.2,1202.1 1422.6,1199.8 1426.0,1201.4 1429.5,1202.8"/>
<polyline stroke="#ff0080" points="222.0,1197.7 225.4,1198.8 228.9,1199.3 232.3,1199.6 235.8,1200.5 239.2,1200.7 242.7,1201.1 246.2,1201.1 249.6,1201.4 253.1,1201.6 256.5,1201.2 259.9,1201.1 263.4,1201.1 266.9,1201.0 270.3,1200.6 273.8,1199.8 277.2,1199.1 280.6,1198.7 284.1,1197.6 287.6,1196.7 291.0,1195.9 294.4,1194.8 297.9,1193.6 301.4,1192.5 304.8,1191.0 308.2,1189.7 311.7,1188.2 315.1,1186.4 318.6,1184.7 322.1,1183.2 325.5,1181.2 328.9,1179.4 332.4,1177.1 335.9,1174.8 339.3,1173.0 342.8,1170.1 346.2,1167.1 349.6,1165.0 353.1,1163.1 356.6,1160.1 360.0,1157.0 363.5,1154.0 366.9,1150.9 370.4,1148.5 373.8,1145.4 377.2,1141.4 380.7,1136.5 384.1,1134.6 387.6,1131.7 391.1,1127.8 394.5,1123.3 398.0,1120.9 401.4,1119.8 404.9,1114.8 408.3,1111.1 411.8,1107.8 415.2,1104.5 418.6,1100.5 422.1,1093.2 425.6,1090.7 429.0,1087.8 432.5,1085.9 435.9,1081.6 439.4,1076.9 442.8,1073.7 446.2,1070.3 449.7,1064.7 453.1,1061.1 456.6,1058.7 460.1,1057.8 463.5,1052.9 467.0,1050.7 470.4,1047.2 473.9,1043.4 477.3,1039.6 480.8,1035.6 484.2,1036.4 487.7,1030.6 491.1,1028.6 494.6,1025.5 498.0,1023.6 501.4,1018.3 504.9,1017.1 508.4,1013.9 511.8,1013.3 515.2,1009.2 518.7,1007.5 522.2,1006.8 525.6,1004.2 529.0,1002.6 532.5,1001.1 536.0,996.8 539.4,996.0 542.9,995.5 546.3,995.7 549.8,991.4 553.2,991.0 556.7,990.4 560.1,990.1 563.5,986.5 567.0,985.6 570.5,980.8 573.9,980.8 577.4,980.2 580.8,979.5 584.2,979.0 587.7,980.5 591.2,979.8 594.6,978.7 598.0,977.3 601.5,977.8 605.0,978.6 608.4,980.2 611.9,979.3 615.3,978.8 618.8,979.0 622.2,979.1 625.7,981.5 629.1,982.8 632.5,981.5 636.0,983.7 639.5,983.5 642.9,984.7 646.4,987.5 649.8,986.8 653.2,987.6 656.7,988.7 660.2,989.8 663.6,991.8 667.0,992.0 670.5,992.8 674.0,992.0 677.4,994.3 680.9,995.0 684.3,994.2 687.8,999.3 691.2,997.6 694.7,999.2 698.1,1001.2 701.5,1003.5 705.0,1002.2 708.5,1003.8 711.9,1006.0 715.4,1008.3 718.8,1007.2 722.2,1007.4 725.7,1011.5 729.2,1012.4 732.6,1013.1 736.1,1013.8 739.5,1016.7 743.0,1015.5 746.4,1019.0 749.9,1021.3 753.3,1023.4 756.8,1025.5 760.2,1025.0 763.6,1027.0 767.1,1029.8 770.6,1031.9 774.0,1031.3 777.5,1032.4 780.9,1034.7 784.4,1037.1 787.8,1039.7 791.2,1039.8 794.7,1041.0 798.1,1043.9 801.6,1046.4 805.1,1046.1 808.5,1050.3 812.0,1051.2 815.4,1050.9 818.9,1054.6 822.3,1057.1 825.8,1061.2 829.2,1061.9 832.6,1062.6 836.1,1062.1 839.6,1066.9 843.0,1065.4 846.5,1068.9 849.9,1071.4 853.4,1072.4 856.8,1075.9 860.2,1076.0 863.7,1076.1 867.1,1081.4 870.6,1082.6 874.1,1084.5 877.5,1084.6 881.0,1085.9 884.4,1085.7 887.9,1090.0 891.3,1089.7 894.8,1092.5 898.2,1093.3 901.7,1095.2 905.1,1096.0 908.6,1098.8 912.0,1098.6 915.5,1099.9 918.9,1103.7 922.4,1104.3 925.8,1104.8 929.2,1107.5 932.7,1109.1 936.2,1109.9 939.6,1110.0 943.1,1110.9 946.5,1113.5 950.0,1113.5 953.4,1117.0 956.9,1114.4 960.3,1117.4 963.8,1117.1 967.2,1119.9 970.7,1121.3 974.1,1121.5 977.6,1122.6 981.0,1125.8 984.5,1126.2 987.9,1126.7 991.4,1127.9 994.8,1129.1 998.2,1130.3 1001.7,1131.3 1005.2,1131.3 1008.6,1132.9 1012.1,1134.2 1015.5,1135.9 1019.0,1134.8 1022.4,1137.0 1025.8,1136.3 1029.3,1138.9 1032.8,1141.1 1036.2,1141.4 1039.7,1142.3 1043.1,1143.3 1046.6,1144.0 1050.0,1145.0 1053.5,1144.4 1056.9,1147.5 1060.3,1149.0 1063.8,1149.9 1067.2,1148.2 1070.7,1150.4 1074.2,1151.1 1077.6,1150.4 1081.1,1152.6 1084.5,1155.5 1088.0,1154.5 1091.4,1154.2 1094.8,1153.6 1098.3,1154.9 1101.8,1157.7 1105.2,1158.7 1108.7,1159.6 1112.1,1161.1 1115.6,1159.6 1119.0,1162.2 1122.5,1163.5 1125.9,1165.5 1129.3,1166.9 1132.8,1166.0 1136.2,1165.4 1139.7,1167.9 1143.2,1168.4 1146.6,1170.1 1150.1,1170.8 1153.5,1171.1 1157.0,1169.4 1160.4,1167.9 1163.8,1169.6 1167.3,1171.8 1170.8,1173.9 1174.2,1172.4 1177.7,1175.5 1181.1,1177.2 1184.6,1174.4 1188.0,1178.0 1191.5,1175.8 1194.9,1177.4 1198.3,1176.9 1201.8,1181.1 1205.2,1179.0 1208.7,1179.1 1212.2,1179.4 1215.6,1183.1 1219.1,1182.7 1222.5,1185.0 1226.0,1180.9 1229.4,1183.1 1232.8,1184.3 1236.3,1182.9 1239.8,1185.5 1243.2,1185.4 1246.7,1186.6 1250.1,1185.4 1253.5,1190.6 1257.0,1186.1 1260.5,1187.3 1263.9,1190.0 1267.4,1186.9 1270.8,1184.9 1274.2,1190.2 1277.7,1190.1 1281.2,1190.2 1284.6,1189.5 1288.0,1193.6 1291.5,1192.1 1295.0,1193.3 1298.4,1191.9 1301.9,1194.3 1305.3,1194.2 1308.8,1194.6 1312.2,1195.0 1315.7,1194.2 1319.1,1194.2 1322.5,1197.2 1326.0,1196.6 1329.5,1195.8 1332.9,1194.2 1336.4,1192.9 1339.8,1196.1 1343.2,1195.6 1346.7,1193.6 1350.2,1194.8 1353.6,1197.3 1357.0,1197.8 1360.5,1199.5 1364.0,1194.4 1367.4,1196.2 1370.9,1198.4 1374.3,1198.7 1377.8,1195.7 1381.2,1196.0 1384.7,1196.3 1388.1,1196.5 1391.5,1199.8 1395.0,1200.6 1398.5,1198.8 1401.9,1200.3 1405.4,1199.2 1408.8,1200.3 1412.2,1200.4 1415.7,1197.8 1419.2,1201.1 1422.6,1201.6 1426.0,1196.8 1429.5,1202.5"/>
<polyline stroke="#008000" points="222.0,1198.0 225.4,1198.9 228.9,1199.2 232.3,1200.0 235.8,1200.2 239.2,1200.3 242.7,1200.9 246.2,1200.9 249.6,1200.8 253.1,1200.6 256.5,1200.8 259.9,1200.6 263.4,1200.5 266.9,1200.0 270.3,1199.4 273.8,1199.1 277.2,1199.0 280.6,1198.4 284.1,1197.8 287.6,1196.9 291.0,1196.2 294.4,1194.9 297.9,1194.1 301.4,1192.8 304.8,1192.0 308.2,1190.8 311.7,1189.6 315.1,1188.2 318.6,1186.7 322.1,1185.2 325.5,1183.9 328.9,1182.4 332.4,1180.4 335.9,1178.3 339.3,1176.5 342.8,1175.1 346.2,1172.5 349.6,1170.8 353.1,1169.3 356.6,1166.4 360.0,1164.6 363.5,1161.0 366.9,1158.8 370.4,1156.9 373.8,1154.3 377.2,1151.2 380.7,1148.7 384.1,1146.2 387.6,1141.4 391.1,1139.8 394.5,1137.3 398.0,1135.4 401.4,1130.4 404.9,1127.1 408.3,1123.7 411.8,1121.9 415.2,1116.7 418.6,1115.5 422.1,1112.9 425.6,1108.7 429.0,1105.4 432.5,1101.2 435.9,1095.9 439.4,1094.8 442.8,1090.7 446.2,1088.1 449.7,1086.6 453.1,1084.9 456.6,1080.5 460.1,1078.4 463.5,1075.2 467.0,1071.1 470.4,1068.8 473.9,1064.6 477.3,1064.8 480.8,1061.8 484.2,1054.7 487.7,1053.2 491.1,1051.7 494.6,1048.8 498.0,1048.6 501.4,1046.5 504.9,1041.9 508.4,1042.7 511.8,1038.1 515.2,1038.7 518.7,1033.2 522.2,1031.5 525.6,1030.7 529.0,1028.4 532.5,1026.7 536.0,1026.7 539.4,1026.0 542.9,1023.4 546.3,1021.0 549.8,1021.4 553.2,1019.3 556.7,1016.1 560.1,1017.2 563.5,1017.0 567.0,1018.1 570.5,1007.6 573.9,1008.5 577.4,1008.7 580.8,1009.5 584.2,1006.7 587.7,1007.4 591.2,1007.1 594.6,1007.9 598.0,1009.2 601.5,1007.8 605.0,1007.6 608.4,1009.3 611.9,1009.9 615.3,1009.5 618.8,1010.1 622.2,1008.3 625.7,1007.6 629.1,1011.0 632.5,1012.5 636.0,1011.0 639.5,1011.9 642.9,1013.0 646.4,1013.9 649.8,1013.4 653.2,1014.5 656.7,1015.3 660.2,1015.5 663.6,1019.9 667.0,1018.0 670.5,1018.2 674.0,1019.3 677.4,1020.7 680.9,1022.8 684.3,1024.4 687.8,1023.2 691.2,1025.1 694.7,1022.7 698.1,1023.9 701.5,1025.9 705.0,1025.4 708.5,1027.0 711.9,1028.8 715.4,1027.8 718.8,1029.8 722.2,1031.2 725.7,1031.8 729.2,1032.9 732.6,1033.7 736.1,1036.0 739.5,1037.1 743.0,1037.3 746.4,1038.8 749.9,1039.7 753.3,1042.9 756.8,1043.4 760.2,1044.9 763.6,1045.4 767.1,1046.0 770.6,1048.4 774.0,1049.4 777.5,1050.8 780.9,1051.7 784.4,1053.6 787.8,1055.5 791.2,1057.4 794.7,1058.6 798.1,1058.4 801.6,1059.5 805.1,1062.3 808.5,1065.4 812.0,1066.4 815.4,1067.2 818.9,1071.5 822.3,1072.2 825.8,1071.2 829.2,1074.2 832.6,1077.5 836.1,1078.7 839.6,1081.8 843.0,1082.0 846.5,1083.4 849.9,1084.9 853.4,1086.5 856.8,1088.1 860.2,1088.4 863.7,1090.4 867.1,1092.8 870.6,1093.9 874.1,1097.3 877.5,1097.3 881.0,1096.0 884.4,1097.6 887.9,1099.8 891.3,1102.8 894.8,1103.5 898.2,1102.2 901.7,1105.4 905.1,1107.1 908.6,1107.1 912.0,1107.6 915.5,1109.5 918.9,1110.0 922.4,1113.3 925.8,1112.7 929.2,1115.1 932.7,1115.7 936.2,1119.0 939.6,1118.2 943.1,1119.7 946.5,1120.2 950.0,1122.4 953.4,1124.4 956.9,1124.3 960.3,1124.0 963.8,1125.8 967.2,1127.3 970.7,1128.2 974.1,1127.3 977.6,1129.5 981.0,1131.9 984.5,1130.2 987.9,1132.1 991.4,1132.8 994.8,1135.8 998.2,1135.6 1001.7,1135.5 1005.2,1135.7 1008.6,1136.9 1012.1,1137.0 1015.5,1138.9 1019.0,1140.8 1022.4,1143.1 1025.8,1140.8 1029.3,1142.1 1032.8,1140.8 1036.2,1141.9 1039.7,1145.8 1043.1,1145.4 1046.6,1146.0 1050.0,1146.7 1053.5,1149.9 1056.9,1150.4 1060.3,1151.1 1063.8,1150.1 1067.2,1151.9 1070.7,1154.2 1074.2,1155.3 1077.6,1155.2 1081.1,1157.3 1084.5,1157.9 1088.0,1157.5 1091.4,1156.8 1094.8,1158.2 1098.3,1159.4 1101.8,1161.7 1105.2,1162.5 1108.7,1164.5 1112.1,1162.6 1115.6,1163.2 1119.0,1164.8 1122.5,1161.8 1125.9,1165.2 1129.3,1164.5 1132.8,1166.5 1136.2,1166.9 1139.7,1169.8 1143.2,1169.1 1146.6,1168.6 1150.1,1173.2 1153.5,1169.7 1157.0,1172.7 1160.4,1173.0 1163.8,1173.8 1167.3,1172.5 1170.8,1173.3 1174.2,1175.8 1177.7,1176.6 1181.1,1175.8 1184.6,1177.6 1188.0,1178.7 1191.5,1179.0 1194.9,1177.3 1198.3,1181.2 1201.8,1182.4 1205.2,1180.3 1208.7,1182.0 1212.2,1184.1 1215.6,1181.6 1219.1,1183.7 1222.5,1185.2 1226.0,1186.3 1229.4,1182.4 1232.8,1184.9 1236.3,1182.8 1239.8,1184.4 1243.2,1187.5 1246.7,1184.6 1250.1,1186.9 1253.5,1186.3 1257.0,1190.3 1260.5,1191.5 1263.9,1190.4 1267.4,1191.2 1270.8,1188.6 1274.2,1189.1 1277.7,1192.6 1281.2,1191.3 1284.6,1196.4 1288.0,1193.5 1291.5,1192.6 1295.0,1195.5 1298.4,1196.4 1301.9,1194.3 1305.3,1195.3 1308.8,1191.9 1312.2,1196.4 1315.7,1194.9 1319.1,1192.4 1322.5,1192.9 1326.0,1194.8 1329.5,1197.5 1332.9,1197.4 1336.4,1195.7 1339.8,1197.0 1343.2,1197.0 1346.7,1198.5 1350.2,1198.8 1353.6,1194.8 1357.0,1195.5 1360.5,1202.6 1364.0,1198.6 1367.4,1196.8 1370.9,1200.7 1374.3,1201.8 1377.8,1200.6 1381.2,1200.6 1384.7,1200.4 1388.1,1201.7 1391.5,1195.4 1395.0,1201.4 1398.5,1199.0 1401.9,1198.3 1405.4,1199.6 1408.8,1198.6 1412.2,1196.7 1415.7,1200.8 1419.2,1198.2 1422.6,1197.4 1426.0,1201.2 1429.5,1206.0"/>
<polyline stroke="#ff8000" points="222.0,1198.3 225.4,1199.1 228.9,1200.0 232.3,1200.8 235.8,1201.2 239.2,1201.4 242.7,1201.5 246.2,1201.5 249.6,1201.5 253.1,1201.5 256.5,1201.5 259.9,1201.6 263.4,1201.5 266.9,1201.6 270.3,1201.7 273.8,1201.5 277.2,1201.0 280.6,1200.5 284.1,1199.9 287.6,1199.1 291.0,1198.4 294.4,1197.7 297.9,1196.8 301.4,1195.6 304.8,1194.8 308.2,1193.8 311.7,1192.4 315.1,1191.1 318.6,1190.1 322.1,1188.6 325.5,1187.2 328.9,1185.7 332.4,1184.3 335.9,1182.7 339.3,1180.6 342.8,1179.0 346.2,1177.7 349.6,1175.9 353.1,1174.3 356.6,1172.9 360.0,1170.5 363.5,1167.8 366.9,1165.7 370.4,1164.4 373.8,1160.7 377.2,1159.0 380.7,1157.8 384.1,1155.4 387.6,1153.0 391.1,1151.0 394.5,1147.4 398.0,1144.7 401.4,1143.5 404.9,1141.0 408.3,1138.6 411.8,1136.8 415.2,1135.2 418.6,1133.1 422.1,1129.2 425.6,1126.7 429.0,1124.4 432.5,1121.9 435.9,1119.3 439.4,1117.5 442.8,1116.5 446.2,1114.5 449.7,1109.3 453.1,1107.4 456.6,1106.6 460.1,1104.0 463.5,1100.4 467.0,1096.9 470.4,1094.8 473.9,1093.5 477.3,1091.5 480.8,1090.8 484.2,1087.7 487.7,1086.2 491.1,1083.7 494.6,1083.4 498.0,1079.7 501.4,1078.4 504.9,1075.4 508.4,1075.9 511.8,1072.4 515.2,1070.8 518.7,1070.1 522.2,1067.7 525.6,1067.2 529.0,1063.9 532.5,1065.1 536.0,1059.9 539.4,1061.6 542.9,1061.7 546.3,1061.1 549.8,1057.6 553.2,1057.0 556.7,1057.0 560.1,1056.2 563.5,1055.9 567.0,1053.2 570.5,1049.3 573.9,1048.7 577.4,1050.1 580.8,1048.0 584.2,1048.3 587.7,1047.4 591.2,1047.9 594.6,1046.3 598.0,1045.1 601.5,1046.2 605.0,1045.8 608.4,1046.1 611.9,1047.1 615.3,1046.0 618.8,1047.0 622.2,1046.3 625.7,1045.6 629.1,1044.9 632.5,1047.4 636.0,1046.1 639.5,1045.3 642.9,1047.0 646.4,1047.5 649.8,1047.5 653.2,1047.9 656.7,1049.1 660.2,1048.9 663.6,1052.8 667.0,1052.4 670.5,1051.5 674.0,1050.6 677.4,1053.3 680.9,1054.5 684.3,1054.7 687.8,1053.7 691.2,1055.9 694.7,1055.2 698.1,1054.4 701.5,1056.5 705.0,1056.4 708.5,1057.5 711.9,1057.6 715.4,1060.5 718.8,1062.2 722.2,1061.3 725.7,1061.0 729.2,1064.2 732.6,1064.2 736.1,1066.6 739.5,1067.3 743.0,1069.6 746.4,1069.6 749.9,1070.9 753.3,1069.7 756.8,1071.7 760.2,1071.8 763.6,1071.9 767.1,1076.6 770.6,1074.7 774.0,1076.8 777.5,1078.1 780.9,1080.0 784.4,1082.7 787.8,1083.3 791.2,1083.6 794.7,1085.8 798.1,1085.6 801.6,1085.8 805.1,1088.6 808.5,1089.7 812.0,1089.3 815.4,1092.6 818.9,1092.1 822.3,1095.2 825.8,1094.1 829.2,1096.0 832.6,1097.9 836.1,1098.8 839.6,1097.8 843.0,1101.8 846.5,1103.4 849.9,1102.4 853.4,1103.2 856.8,1105.5 860.2,1105.8 863.7,1107.6 867.1,1108.1 870.6,1109.8 874.1,1110.7 877.5,1111.8 881.0,1113.5 884.4,1114.2 887.9,1114.7 891.3,1116.0 894.8,1118.4 898.2,1118.1 901.7,1116.9 905.1,1118.9 908.6,1120.5 912.0,1122.3 915.5,1124.5 918.9,1124.5 922.4,1126.0 925.8,1125.8 929.2,1128.4 932.7,1127.9 936.2,1129.2 939.6,1129.4 943.1,1130.7 946.5,1130.7 950.0,1134.0 953.4,1133.6 956.9,1133.6 960.3,1133.3 963.8,1135.4 967.2,1136.9 970.7,1137.6 974.1,1137.5 977.6,1138.7 981.0,1140.7 984.5,1141.2 987.9,1142.3 991.4,1142.4 994.8,1142.9 998.2,1142.4 1001.7,1143.9 1005.2,1146.0 1008.6,1146.1 1012.1,1147.5 1015.5,1147.9 1019.0,1148.4 1022.4,1148.8 1025.8,1149.9 1029.3,1150.0 1032.8,1149.7 1036.2,1150.1 1039.7,1150.2 1043.1,1153.3 1046.6,1154.8 1050.0,1155.4 1053.5,1155.1 1056.9,1156.6 1060.3,1157.1 1063.8,1159.2 1067.2,1159.0 1070.7,1157.6 1074.2,1161.1 1077.6,1161.6 1081.1,1161.6 1084.5,1161.2 1088.0,1163.2 1091.4,1162.2 1094.8,1162.1 1098.3,1162.5 1101.8,1164.3 1105.2,1165.7 1108.7,1167.6 1112.1,1167.4 1115.6,1167.5 1119.0,1171.0 1122.5,1169.3 1125.9,1169.3 1129.3,1169.5 1132.8,1167.9 1136.2,1170.7 1139.7,1171.6 1143.2,1171.5 1146.6,1173.3 1150.1,1173.8 1153.5,1176.9 1157.0,1177.0 1160.4,1176.6 1163.8,1178.9 1167.3,1176.2 1170.8,1176.6 1174.2,1177.2 1177.7,1178.6 1181.1,1183.0 1184.6,1179.4 1188.0,1180.2 1191.5,1178.2 1194.9,1179.7 1198.3,1183.7 1201.8,1185.5 1205.2,1183.8 1208.7,1183.7 1212.2,1183.8 1215.6,1181.7 1219.1,1181.5 1222.5,1183.6 1226.0,1184.8 1229.4,1186.3 1232.8,1185.6 1236.3,1190.0 1239.8,1186.7 1243.2,1187.8 1246.7,1185.6 1250.1,1191.8 1253.5,1188.6 1257.0,1188.7 1260.5,1190.3 1263.9,1187.9 1267.4,1192.4 1270.8,1194.1 1274.2,1193.5 1277.7,1190.9 1281.2,1190.8 1284.6,1195.2 1288.0,1193.0 1291.5,1188.8 1295.0,1194.7 1298.4,1196.3 1301.9,1195.4 1305.3,1194.2 1308.8,1196.9 1312.2,1194.9 1315.7,1195.0 1319.1,1195.3 1322.5,1200.1 1326.0,1197.7 1329.5,1198.3 1332.9,1196.5 1336.4,1204.1 1339.8,1196.9 1343.2,1195.8 1346.7,1201.1 1350.2,1198.5 1353.6,1201.8 1357.0,1202.9 1360.5,1198.4 1364.0,1196.9 1367.4,1199.5 1370.9,1197.1 1374.3,1200.7 1377.8,1197.7 1381.2,1199.0 1384.7,1197.3 1388.1,1197.7 1391.5,1200.4 1395.0,1202.1 1398.5,1200.3 1401.9,1199.4 1405.4,1197.5 1408.8,1201.6 1412.2,1201.3 1415.7,1202.2 1419.2,1197.6 1422.6,1203.9 1426.0,1202.5 1429.5,1199.8"/>
<polyline stroke="#ff0000" points="222.0,1201.5 225.4,1201.5 228.9,1201.3 232.3,1201.5 235.8,1201.7 239.2,1201.5 242.7,1201.4 246.2,1201.3 249.6,1201.2 253.1,1201.6 256.5,1201.6 259.9,1201.5 263.4,1201.4 266.9,1201.5 270.3,1201.6 273.8,1201.5 277.2,1201.7 280.6,1201.6 284.1,1201.5 287.6,1201.5 291.0,1201.7 294.4,1201.8 297.9,1201.2 301.4,1200.4 304.8,1199.9 308.2,1199.2 311.7,1198.3 315.1,1197.4 318.6,1196.5 322.1,1195.5 325.5,1194.8 328.9,1194.3 332.4,1192.8 335.9,1191.9 339.3,1191.3 342.8,1189.6 346.2,1188.0 349.6,1187.6 353.1,1186.1 356.6,1184.7 360.0,1183.7 363.5,1182.4 366.9,1181.6 370.4,1180.4 373.8,1179.0 377.2,1177.4 380.7,1176.2 384.1,1175.7 387.6,1174.3 391.1,1172.3 394.5,1171.0 398.0,1170.0 401.4,1168.2 404.9,1167.4 408.3,1164.4 411.8,1164.2 415.2,1160.6 418.6,1160.8 422.1,1161.4 425.6,1158.5 429.0,1158.0 432.5,1156.9 435.9,1155.4 439.4,1152.3 442.8,1152.3 446.2,1152.3 449.7,1151.8 453.1,1150.0 456.6,1148.1 460.1,1147.1 463.5,1145.5 467.0,1144.8 470.4,1143.3 473.9,1144.4 477.3,1139.8 480.8,1141.0 484.2,1139.3 487.7,1138.0 491.1,1136.7 494.6,1135.1 498.0,1134.7 501.4,1132.8 504.9,1134.2 508.4,1131.0 511.8,1131.2 515.2,1129.2 518.7,1129.1 522.2,1128.1 525.6,1127.3 529.0,1125.6 532.5,1127.5 536.0,1126.3 539.4,1124.6 542.9,1124.7 546.3,1122.2 549.8,1124.0 553.2,1121.4 556.7,1122.6 560.1,1123.9 563.5,1120.8 567.0,1122.6 570.5,1118.9 573.9,1116.8 577.4,1116.3 580.8,1116.3 584.2,1117.1 587.7,1116.5 591.2,1117.6 594.6,1116.7 598.0,1116.5 601.5,1116.2 605.0,1114.2 608.4,1115.1 611.9,1115.4 615.3,1115.3 618.8,1113.3 622.2,1114.1 625.7,1113.8 629.1,1113.7 632.5,1114.0 636.0,1113.0 639.5,1113.0 642.9,1114.2 646.4,1114.2 649.8,1114.4 653.2,1113.6 656.7,1111.5 660.2,1113.5 663.6,1112.6 667.0,1114.5 670.5,1113.6 674.0,1112.8 677.4,1113.6 680.9,1113.7 684.3,1112.4 687.8,1115.2 691.2,1114.0 694.7,1113.1 698.1,1113.0 701.5,1115.0 705.0,1116.0 708.5,1115.2 711.9,1115.9 715.4,1116.3 718.8,1116.8 722.2,1118.1 725.7,1115.5 729.2,1115.0 732.6,1115.1 736.1,1116.5 739.5,1118.0 743.0,1118.5 746.4,1117.7 749.9,1118.4 753.3,1117.4 756.8,1119.1 760.2,1119.3 763.6,1118.1 767.1,1120.4 770.6,1122.0 774.0,1122.1 777.5,1120.3 780.9,1120.8 784.4,1123.3 787.8,1122.3 791.2,1123.3 794.7,1122.3 798.1,1123.7 801.6,1124.6 805.1,1125.2 808.5,1125.0 812.0,1124.0 815.4,1126.8 818.9,1125.9 822.3,1128.2 825.8,1128.1 829.2,1129.7 832.6,1128.9 836.1,1131.2 839.6,1129.2 843.0,1130.2 846.5,1132.4 849.9,1132.8 853.4,1134.1 856.8,1132.8 860.2,1134.2 863.7,1133.7 867.1,1136.6 870.6,1135.3 874.1,1136.4 877.5,1135.2 881.0,1136.9 884.4,1137.3 887.9,1137.3 891.3,1138.1 894.8,1140.6 898.2,1140.1 901.7,1140.5 905.1,1141.4 908.6,1144.1 912.0,1143.5 915.5,1144.3 918.9,1143.9 922.4,1145.5 925.8,1146.2 929.2,1146.5 932.7,1147.0 936.2,1148.0 939.6,1150.0 943.1,1150.7 946.5,1149.5 950.0,1150.0 953.4,1151.4 956.9,1150.3 960.3,1153.1 963.8,1152.1 967.2,1154.8 970.7,1155.5 974.1,1154.9 977.6,1155.5 981.0,1154.9 984.5,1157.1 987.9,1158.6 991.4,1157.3 994.8,1157.4 998.2,1160.7 1001.7,1163.3 1005.2,1163.4 1008.6,1160.7 1012.1,1163.9 1015.5,1162.6 1019.0,1163.3 1022.4,1164.4 1025.8,1163.2 1029.3,1165.4 1032.8,1162.9 1036.2,1164.7 1039.7,1166.3 1043.1,1169.2 1046.6,1169.6 1050.0,1169.0 1053.5,1170.7 1056.9,1171.9 1060.3,1171.8 1063.8,1171.8 1067.2,1171.7 1070.7,1173.0 1074.2,1172.8 1077.6,1174.2 1081.1,1172.4 1084.5,1173.9 1088.0,1174.9 1091.4,1176.7 1094.8,1177.6 1098.3,1178.0 1101.8,1177.9 1105.2,1180.9 1108.7,1180.7 1112.1,1180.1 1115.6,1180.4 1119.0,1181.6 1122.5,1180.8 1125.9,1179.0 1129.3,1182.0 1132.8,1180.8 1136.2,1183.4 1139.7,1183.4 1143.2,1181.4 1146.6,1181.8 1150.1,1183.5 1153.5,1184.5 1157.0,1181.7 1160.4,1187.4 1163.8,1184.5 1167.3,1186.8 1170.8,1189.2 1174.2,1185.4 1177.7,1188.1 1181.1,1187.2 1184.6,1188.8 1188.0,1187.3 1191.5,1188.4 1194.9,1186.9 1198.3,1189.9 1201.8,1190.9 1205.2,1193.0 1208.7,1189.3 1212.2,1190.0 1215.6,1191.3 1219.1,1192.4 1222.5,1191.2 1226.0,1192.2 1229.4,1192.4 1232.8,1193.3 1236.3,1189.5 1239.8,1193.0 1243.2,1194.5 1246.7,1196.7 1250.1,1192.9 1253.5,1192.9 1257.0,1193.6 1260.5,1193.1 1263.9,1192.8 1267.4,1196.4 1270.8,1198.2 1274.2,1199.2 1277.7,1193.6 1281.2,1196.2 1284.6,1193.8 1288.0,1195.5 1291.5,1198.7 1295.0,1192.5 1298.4,1196.2 1301.9,1197.0 1305.3,1198.9 1308.8,1197.5 1312.2,1200.2 1315.7,1202.7 1319.1,1200.9 1322.5,1199.1 1326.0,1198.9 1329.5,1201.3 1332.9,1201.2 1336.4,1198.4 1339.8,1202.2 1343.2,1202.7 1346.7,1198.9 1350.2,1200.6 1353.6,1199.7 1357.0,1199.5 1360.5,1201.7 1364.0,1200.6 1367.4,1199.1 1370.9,1200.1 1374.3,1199.6 1377.8,1200.8 1381.2,1203.7 1384.7,1202.4 1388.1,1200.6 1391.5,1201.6 1395.0,1200.6 1398.5,1198.0 1401.9,1200.0 1405.4,1201.6 1408.8,1199.6 1412.2,1197.3 1415.7,1200.6 1419.2,1200.0 1422.6,1205.0 1426.0,1199.7 1429.5,1200.9"/>
<polyline stroke="#800000" points="222.0,1200.6 225.4,1201.2 228.9,1201.5 232.3,1201.6 235.8,1201.5 239.2,1201.2 242.7,1201.4 246.2,1201.4 249.6,1201.6 253.1,1201.6 256.5,1201.4 259.9,1201.6 263.4,1201.6 266.9,1201.5 270.3,1201.5 273.8,1201.4 277.2,1201.6 280.6,1201.4 284.1,1201.8 287.6,1201.6 291.0,1201.0 294.4,1200.3 297.9,1199.8 301.4,1198.8 304.8,1198.2 308.2,1197.2 311.7,1196.4 315.1,1195.4 318.6,1194.4 322.1,1193.6 325.5,1192.5 328.9,1191.2 332.4,1190.1 335.9,1188.6 339.3,1187.2 342.8,1186.4 346.2,1185.6 349.6,1183.7 353.1,1181.6 356.6,1180.7 360.0,1179.3 363.5,1177.7 366.9,1175.7 370.4,1173.5 373.8,1173.5 377.2,1170.7 380.7,1169.5 384.1,1168.5 387.6,1165.2 391.1,1164.0 394.5,1162.6 398.0,1160.4 401.4,1159.2 404.9,1156.3 408.3,1155.2 411.8,1151.3 415.2,1150.2 418.6,1149.5 422.1,1147.5 425.6,1146.5 429.0,1143.2 432.5,1141.0 435.9,1141.6 439.4,1138.2 442.8,1135.6 446.2,1133.4 449.7,1132.9 453.1,1131.5 456.6,1129.3 460.1,1126.7 463.5,1125.1 467.0,1123.7 470.4,1122.6 473.9,1121.7 477.3,1120.9 480.8,1117.6 484.2,1116.7 487.7,1114.7 491.1,1110.8 494.6,1113.0 498.0,1109.7 501.4,1110.2 504.9,1108.7 508.4,1107.7 511.8,1105.9 515.2,1104.2 518.7,1103.2 522.2,1100.7 525.6,1101.7 529.0,1099.6 532.5,1099.9 536.0,1099.7 539.4,1098.0 542.9,1098.6 546.3,1095.3 549.8,1093.8 553.2,1094.9 556.7,1095.6 560.1,1093.1 563.5,1092.6 567.0,1091.5 570.5,1089.4 573.9,1088.0 577.4,1086.9 580.8,1084.8 584.2,1087.1 587.7,1085.5 591.2,1086.2 594.6,1085.5 598.0,1083.5 601.5,1086.1 605.0,1086.5 608.4,1084.9 611.9,1084.6 615.3,1082.1 618.8,1084.6 622.2,1082.0 625.7,1083.5 629.1,1082.8 632.5,1084.1 636.0,1085.4 639.5,1084.2 642.9,1082.8 646.4,1084.1 649.8,1084.9 653.2,1083.1 656.7,1087.0 660.2,1085.0 663.6,1084.0 667.0,1085.5 670.5,1085.4 674.0,1084.3 677.4,1085.1 680.9,1087.0 684.3,1086.0 687.8,1087.6 691.2,1085.8 694.7,1085.6 698.1,1086.3 701.5,1086.4 705.0,1087.6 708.5,1090.0 711.9,1089.8 715.4,1089.3 718.8,1088.5 722.2,1089.9 725.7,1089.2 729.2,1091.9 732.6,1090.9 736.1,1094.8 739.5,1092.8 743.0,1094.4 746.4,1093.7 749.9,1094.9 753.3,1096.1 756.8,1095.8 760.2,1095.6 763.6,1096.7 767.1,1096.0 770.6,1099.0 774.0,1099.6 777.5,1101.1 780.9,1101.1 784.4,1100.9 787.8,1101.0 791.2,1103.2 794.7,1105.9 798.1,1106.0 801.6,1105.9 805.1,1106.5 808.5,1106.6 812.0,1107.0 815.4,1109.6 818.9,1111.4 822.3,1112.9 825.8,1112.1 829.2,1111.0 832.6,1113.2 836.1,1113.1 839.6,1116.1 843.0,1116.9 846.5,1117.3 849.9,1118.8 853.4,1119.3 856.8,1119.3 860.2,1120.4 863.7,1120.6 867.1,1121.7 870.6,1122.4 874.1,1124.7 877.5,1125.2 881.0,1125.7 884.4,1125.1 887.9,1127.0 891.3,1128.2 894.8,1129.3 898.2,1128.6 901.7,1130.3 905.1,1131.9 908.6,1133.0 912.0,1133.7 915.5,1132.5 918.9,1134.9 922.4,1134.0 925.8,1133.6 929.2,1136.1 932.7,1136.1 936.2,1135.8 939.6,1139.2 943.1,1139.4 946.5,1137.1 950.0,1139.7 953.4,1140.6 956.9,1140.6 960.3,1142.9 963.8,1143.4 967.2,1144.0 970.7,1142.1 974.1,1144.3 977.6,1147.3 981.0,1145.8 984.5,1147.3 987.9,1148.0 991.4,1148.8 994.8,1150.1 998.2,1149.3 1001.7,1152.1 1005.2,1151.4 1008.6,1151.4 1012.1,1152.0 1015.5,1153.3 1019.0,1153.0 1022.4,1153.6 1025.8,1155.1 1029.3,1155.0 1032.8,1157.5 1036.2,1156.5 1039.7,1156.8 1043.1,1160.0 1046.6,1159.9 1050.0,1159.4 1053.5,1162.7 1056.9,1162.5 1060.3,1162.0 1063.8,1161.9 1067.2,1161.2 1070.7,1162.7 1074.2,1166.2 1077.6,1167.5 1081.1,1167.9 1084.5,1167.2 1088.0,1167.2 1091.4,1168.8 1094.8,1169.5 1098.3,1168.8 1101.8,1168.5 1105.2,1168.5 1108.7,1171.5 1112.1,1170.7 1115.6,1174.1 1119.0,1173.8 1122.5,1173.0 1125.9,1174.1 1129.3,1175.5 1132.8,1175.9 1136.2,1176.0 1139.7,1175.8 1143.2,1175.5 1146.6,1178.1 1150.1,1178.8 1153.5,1177.8 1157.0,1179.1 1160.4,1180.2 1163.8,1180.3 1167.3,1180.2 1170.8,1182.8 1174.2,1181.4 1177.7,1184.0 1181.1,1184.9 1184.6,1183.9 1188.0,1183.3 1191.5,1184.7 1194.9,1184.5 1198.3,1184.6 1201.8,1184.1 1205.2,1182.2 1208.7,1186.0 1212.2,1187.3 1215.6,1188.4 1219.1,1186.3 1222.5,1189.4 1226.0,1189.9 1229.4,1193.8 1232.8,1190.2 1236.3,1191.2 1239.8,1191.0 1243.2,1188.1 1246.7,1190.0 1250.1,1191.8 1253.5,1194.3 1257.0,1190.8 1260.5,1194.1 1263.9,1194.9 1267.4,1194.9 1270.8,1196.2 1274.2,1198.3 1277.7,1195.6 1281.2,1195.1 1284.6,1195.0 1288.0,1194.6 1291.5,1193.4 1295.0,1194.8 1298.4,1196.6 1301.9,1196.8 1305.3,1197.2 1308.8,1195.4 1312.2,1195.2 1315.7,1196.0 1319.1,1200.1 1322.5,1195.7 1326.0,1197.5 1329.5,1199.3 1332.9,1196.6 1336.4,1195.6 1339.8,1196.9 1343.2,1199.3 1346.7,1200.1 1350.2,1197.8 1353.6,1199.3 1357.0,1201.0 1360.5,1198.9 1364.0,1197.8 1367.4,1198.3 1370.9,1200.3 1374.3,1199.0 1377.8,1199.9 1381.2,1199.2 1384.7,1195.4 1388.1,1199.4 1391.5,1200.2 1395.0,1197.8 1398.5,1197.8 1401.9,1205.2 1405.4,1207.3 1408.8,1202.3 1412.2,1198.7 1415.7,1201.2 1419.2,1197.7 1422.6,1201.1 1426.0,1198.9 1429.5,1200.6"/>
</g>
<g fill="none" stroke-linecap="butt">
<line x1="218.65" y1="42.6" x2="218.65" y2="1206.8" stroke="#b2b2b2" stroke-width="2.9"/>
<line x1="224.00" y1="42.6" x2="224.00" y2="1206.8" stroke="#e2e2e2" stroke-width="2.0"/>
<line x1="218.90" y1="1204.2" x2="218.90" y2="1218.2" stroke="#cccccc" stroke-width="2.4"/>
<line x1="224.20" y1="1204.2" x2="224.20" y2="1218.2" stroke="#cccccc" stroke-width="2.4"/>
<line x1="391.50" y1="1204.2" x2="391.50" y2="1231.2" stroke="#cccccc" stroke-width="2.4"/>
<line x1="396.70" y1="1204.2" x2="396.70" y2="1231.2" stroke="#cccccc" stroke-width="2.4"/>
<line x1="564.05" y1="1204.2" x2="564.05" y2="1218.2" stroke="#cccccc" stroke-width="2.4"/>
<line x1="569.25" y1="1204.2" x2="569.25" y2="1218.2" stroke="#cccccc" stroke-width="2.4"/>
<line x1="736.60" y1="1204.2" x2="736.60" y2="1231.2" stroke="#cccccc" stroke-width="2.4"/>
<line x1="741.80" y1="1204.2" x2="741.80" y2="1231.2" stroke="#cccccc" stroke-width="2.4"/>
<line x1="909.15" y1="1204.2" x2="909.15" y2="1218.2" stroke="#cccccc" stroke-width="2.4"/>
<line x1="914.35" y1="1204.2" x2="914.35" y2="1218.2" stroke="#cccccc" stroke-width="2.4"/>
<line x1="1081.70" y1="1204.2" x2="1081.70" y2="1231.2" stroke="#cccccc" stroke-width="2.4"/>
<line x1="1086.90" y1="1204.2" x2="1086.90" y2="1231.2" stroke="#cccccc" stroke-width="2.4"/>
<line x1="1254.25" y1="1204.2" x2="1254.25" y2="1218.2" stroke="#cccccc" stroke-width="2.4"/>
<line x1="1259.45" y1="1204.2" x2="1259.45" y2="1218.2" stroke="#cccccc" stroke-width="2.4"/>
<line x1="1426.80" y1="1204.2" x2="1426.80" y2="1231.2" stroke="#cccccc" stroke-width="2.4"/>
<line x1="1432.00" y1="1204.2" x2="1432.00" y2="1231.2" stroke="#cccccc" stroke-width="2.4"/>
<line x1="1599.35" y1="1204.2" x2="1599.35" y2="1218.2" stroke="#cccccc" stroke-width="2.4"/>
<line x1="1604.55" y1="1204.2" x2="1604.55" y2="1218.2" stroke="#cccccc" stroke-width="2.4"/>
<line x1="1771.90" y1="1204.2" x2="1771.90" y2="1231.2" stroke="#cccccc" stroke-width="2.4"/>
<line x1="1777.10" y1="1204.2" x2="1777.10" y2="1231.2" stroke="#cccccc" stroke-width="2.4"/>
<line x1="1081.55" y1="45.3" x2="1081.55" y2="651.3" stroke="#dcdcdc" stroke-width="2.5"/>
<line x1="1086.70" y1="45.3" x2="1086.70" y2="651.3" stroke="#aaaaaa" stroke-width="2.2"/>
<line x1="1082.8" y1="646.85" x2="1775.5" y2="646.85" stroke="#ececec" stroke-width="2.4"/>
<line x1="1082.8" y1="651.85" x2="1775.5" y2="651.85" stroke="#999999" stroke-width="2.4"/>
<line x1="1063.7" y1="646.85" x2="1084.2" y2="646.85" stroke="#ececec" stroke-width="2.4"/>
<line x1="1063.7" y1="651.85" x2="1084.2" y2="651.85" stroke="#999999" stroke-width="2.4"/>
<line x1="1073.7" y1="592.09" x2="1084.2" y2="592.09" stroke="#999999" stroke-width="2.2"/>
<line x1="1073.7" y1="596.44" x2="1084.2" y2="596.44" stroke="#e6e6e6" stroke-width="1.5"/>
<line x1="1063.7" y1="536.33" x2="1084.2" y2="536.33" stroke="#999999" stroke-width="2.2"/>
<line x1="1063.7" y1="540.68" x2="1084.2" y2="540.68" stroke="#e6e6e6" stroke-width="1.5"/>
<line x1="1073.7" y1="480.57" x2="1084.2" y2="480.57" stroke="#999999" stroke-width="2.2"/>
<line x1="1073.7" y1="484.92" x2="1084.2" y2="484.92" stroke="#e6e6e6" stroke-width="1.5"/>
<line x1="1063.7" y1="424.81" x2="1084.2" y2="424.81" stroke="#999999" stroke-width="2.2"/>
<line x1="1063.7" y1="429.16" x2="1084.2" y2="429.16" stroke="#e6e6e6" stroke-width="1.5"/>
<line x1="1073.7" y1="369.05" x2="1084.2" y2="369.05" stroke="#999999" stroke-width="2.2"/>
<line x1="1073.7" y1="373.40" x2="1084.2" y2="373.40" stroke="#e6e6e6" stroke-width="1.5"/>
<line x1="1063.7" y1="313.29" x2="1084.2" y2="313.29" stroke="#999999" stroke-width="2.2"/>
<line x1="1063.7" y1="317.64" x2="1084.2" y2="317.64" stroke="#e6e6e6" stroke-width="1.5"/>
<line x1="1073.7" y1="257.53" x2="1084.2" y2="257.53" stroke="#999999" stroke-width="2.2"/>
<line x1="1073.7" y1="261.88" x2="1084.2" y2="261.88" stroke="#e6e6e6" stroke-width="1.5"/>
<line x1="1063.7" y1="201.77" x2="1084.2" y2="201.77" stroke="#999999" stroke-width="2.2"/>
<line x1="1063.7" y1="206.12" x2="1084.2" y2="206.12" stroke="#e6e6e6" stroke-width="1.5"/>
<line x1="1073.7" y1="146.01" x2="1084.2" y2="146.01" stroke="#999999" stroke-width="2.2"/>
<line x1="1073.7" y1="150.36" x2="1084.2" y2="150.36" stroke="#e6e6e6" stroke-width="1.5"/>
<line x1="1063.7" y1="90.25" x2="1084.2" y2="90.25" stroke="#999999" stroke-width="2.2"/>
<line x1="1063.7" y1="94.60" x2="1084.2" y2="94.60" stroke="#e6e6e6" stroke-width="1.5"/>
<line x1="1103.95" y1="649.8" x2="1103.95" y2="670.3" stroke="#d0d0d0" stroke-width="2.2"/>
<line x1="1109.05" y1="649.8" x2="1109.05" y2="670.3" stroke="#d0d0d0" stroke-width="2.2"/>
<line x1="1159.67" y1="649.8" x2="1159.67" y2="660.3" stroke="#d0d0d0" stroke-width="2.2"/>
<line x1="1164.77" y1="649.8" x2="1164.77" y2="660.3" stroke="#d0d0d0" stroke-width="2.2"/>
<line x1="1215.40" y1="649.8" x2="1215.40" y2="670.3" stroke="#d0d0d0" stroke-width="2.2"/>
<line x1="1220.50" y1="649.8" x2="1220.50" y2="670.3" stroke="#d0d0d0" stroke-width="2.2"/>
<line x1="1271.12" y1="649.8" x2="1271.12" y2="660.3" stroke="#d0d0d0" stroke-width="2.2"/>
<line x1="1276.22" y1="649.8" x2="1276.22" y2="660.3" stroke="#d0d0d0" stroke-width="2.2"/>
<line x1="1326.85" y1="649.8" x2="1326.85" y2="670.3" stroke="#d0d0d0" stroke-width="2.2"/>
<line x1="1331.95" y1="649.8" x2="1331.95" y2="670.3" stroke="#d0d0d0" stroke-width="2.2"/>
<line x1="1382.58" y1="649.8" x2="1382.58" y2="660.3" stroke="#d0d0d0" stroke-width="2.2"/>
<line x1="1387.67" y1="649.8" x2="1387.67" y2="660.3" stroke="#d0d0d0" stroke-width="2.2"/>
<line x1="1438.30" y1="649.8" x2="1438.30" y2="670.3" stroke="#d0d0d0" stroke-width="2.2"/>
<line x1="1443.40" y1="649.8" x2="1443.40" y2="670.3" stroke="#d0d0d0" stroke-width="2.2"/>
<line x1="1494.03" y1="649.8" x2="1494.03" y2="660.3" stroke="#d0d0d0" stroke-width="2.2"/>
<line x1="1499.12" y1="649.8" x2="1499.12" y2="660.3" stroke="#d0d0d0" stroke-width="2.2"/>
<line x1="1549.75" y1="649.8" x2="1549.75" y2="670.3" stroke="#d0d0d0" stroke-width="2.2"/>
<line x1="1554.85" y1="649.8" x2="1554.85" y2="670.3" stroke="#d0d0d0" stroke-width="2.2"/>
<line x1="1605.48" y1="649.8" x2="1605.48" y2="660.3" stroke="#d0d0d0" stroke-width="2.2"/>
<line x1="1610.58" y1="649.8" x2="1610.58" y2="660.3" stroke="#d0d0d0" stroke-width="2.2"/>
<line x1="1661.20" y1="649.8" x2="1661.20" y2="670.3" stroke="#d0d0d0" stroke-width="2.2"/>
<line x1="1666.30" y1="649.8" x2="1666.30" y2="670.3" stroke="#d0d0d0" stroke-width="2.2"/>
<line x1="1716.92" y1="649.8" x2="1716.92" y2="660.3" stroke="#d0d0d0" stroke-width="2.2"/>
<line x1="1722.02" y1="649.8" x2="1722.02" y2="660.3" stroke="#d0d0d0" stroke-width="2.2"/>
<line x1="221.55" y1="42.6" x2="221.55" y2="1206.8" stroke="#000" stroke-width="2.9"/>
<line x1="221.55" y1="1204.2" x2="221.55" y2="1218.2" stroke="#000" stroke-width="2.9"/>
<line x1="394.10" y1="1204.2" x2="394.10" y2="1231.2" stroke="#000" stroke-width="2.8"/>
<line x1="566.65" y1="1204.2" x2="566.65" y2="1218.2" stroke="#000" stroke-width="2.8"/>
<line x1="739.20" y1="1204.2" x2="739.20" y2="1231.2" stroke="#000" stroke-width="2.8"/>
<line x1="911.75" y1="1204.2" x2="911.75" y2="1218.2" stroke="#000" stroke-width="2.8"/>
<line x1="1084.30" y1="1204.2" x2="1084.30" y2="1231.2" stroke="#000" stroke-width="2.8"/>
<line x1="1256.85" y1="1204.2" x2="1256.85" y2="1218.2" stroke="#000" stroke-width="2.8"/>
<line x1="1429.40" y1="1204.2" x2="1429.40" y2="1231.2" stroke="#000" stroke-width="2.8"/>
<line x1="1601.95" y1="1204.2" x2="1601.95" y2="1218.2" stroke="#000" stroke-width="2.8"/>
<line x1="1774.50" y1="1204.2" x2="1774.50" y2="1231.2" stroke="#000" stroke-width="2.8"/>
<line x1="220.1" y1="1204.20" x2="1776.0" y2="1204.20" stroke="#3c3c3c" stroke-width="5.3"/>
<line x1="193.6" y1="1204.20" x2="221.6" y2="1204.20" stroke="#353535" stroke-width="5.0"/>
<line x1="207.1" y1="1049.55" x2="221.6" y2="1049.55" stroke="#353535" stroke-width="5.0"/>
<line x1="193.6" y1="894.90" x2="221.6" y2="894.90" stroke="#353535" stroke-width="5.0"/>
<line x1="207.1" y1="740.25" x2="221.6" y2="740.25" stroke="#353535" stroke-width="5.0"/>
<line x1="193.6" y1="585.60" x2="221.6" y2="585.60" stroke="#353535" stroke-width="5.0"/>
<line x1="207.1" y1="430.95" x2="221.6" y2="430.95" stroke="#353535" stroke-width="5.0"/>
<line x1="193.6" y1="276.30" x2="221.6" y2="276.30" stroke="#353535" stroke-width="5.0"/>
<line x1="207.1" y1="121.65" x2="221.6" y2="121.65" stroke="#353535" stroke-width="5.0"/>
<line x1="1084.20" y1="45.3" x2="1084.20" y2="651.3" stroke="#000" stroke-width="2.8"/>
<line x1="1082.8" y1="649.35" x2="1775.5" y2="649.35" stroke="#000" stroke-width="2.6"/>
<line x1="1063.7" y1="649.35" x2="1084.2" y2="649.35" stroke="#000" stroke-width="2.6"/>
<line x1="1073.7" y1="594.44" x2="1084.2" y2="594.44" stroke="#000" stroke-width="2.5"/>
<line x1="1063.7" y1="538.68" x2="1084.2" y2="538.68" stroke="#000" stroke-width="2.5"/>
<line x1="1073.7" y1="482.92" x2="1084.2" y2="482.92" stroke="#000" stroke-width="2.5"/>
<line x1="1063.7" y1="427.16" x2="1084.2" y2="427.16" stroke="#000" stroke-width="2.5"/>
<line x1="1073.7" y1="371.40" x2="1084.2" y2="371.40" stroke="#000" stroke-width="2.5"/>
<line x1="1063.7" y1="315.64" x2="1084.2" y2="315.64" stroke="#000" stroke-width="2.5"/>
<line x1="1073.7" y1="259.88" x2="1084.2" y2="259.88" stroke="#000" stroke-width="2.5"/>
<line x1="1063.7" y1="204.12" x2="1084.2" y2="204.12" stroke="#000" stroke-width="2.5"/>
<line x1="1073.7" y1="148.36" x2="1084.2" y2="148.36" stroke="#000" stroke-width="2.5"/>
<line x1="1063.7" y1="92.60" x2="1084.2" y2="92.60" stroke="#000" stroke-width="2.5"/>
<line x1="1106.50" y1="649.8" x2="1106.50" y2="670.3" stroke="#000" stroke-width="2.9"/>
<line x1="1162.22" y1="649.8" x2="1162.22" y2="660.3" stroke="#000" stroke-width="2.9"/>
<line x1="1217.95" y1="649.8" x2="1217.95" y2="670.3" stroke="#000" stroke-width="2.9"/>
<line x1="1273.67" y1="649.8" x2="1273.67" y2="660.3" stroke="#000" stroke-width="2.9"/>
<line x1="1329.40" y1="649.8" x2="1329.40" y2="670.3" stroke="#000" stroke-width="2.9"/>
<line x1="1385.12" y1="649.8" x2="1385.12" y2="660.3" stroke="#000" stroke-width="2.9"/>
<line x1="1440.85" y1="649.8" x2="1440.85" y2="670.3" stroke="#000" stroke-width="2.9"/>
<line x1="1496.58" y1="649.8" x2="1496.58" y2="660.3" stroke="#000" stroke-width="2.9"/>
<line x1="1552.30" y1="649.8" x2="1552.30" y2="670.3" stroke="#000" stroke-width="2.9"/>
<line x1="1608.03" y1="649.8" x2="1608.03" y2="660.3" stroke="#000" stroke-width="2.9"/>
<line x1="1663.75" y1="649.8" x2="1663.75" y2="670.3" stroke="#000" stroke-width="2.9"/>
<line x1="1719.47" y1="649.8" x2="1719.47" y2="660.3" stroke="#000" stroke-width="2.9"/>
</g>
<g font-size="76.5">
<text x="393.1" y="1308.5" text-anchor="middle">500</text>
<text x="738.2" y="1308.5" text-anchor="middle">600</text>
<text x="1083.3" y="1308.5" text-anchor="middle">700</text>
<text x="1428.4" y="1308.5" text-anchor="middle">800</text>
<text x="1773.5" y="1308.5" text-anchor="middle">900</text>
<text x="175.7" y="1225.8" text-anchor="end">0</text>
<text x="175.7" y="916.5" text-anchor="end">1</text>
<text x="175.7" y="607.2" text-anchor="end">2</text>
<text x="175.7" y="297.9" text-anchor="end">3</text>
</g>
<text x="999" y="1410.5" font-size="84.8" text-anchor="middle">Wavelength / nm</text>
<text transform="translate(97.2,624) rotate(-90)" font-size="80" text-anchor="middle">Fluorescence intensity</text>
<g fill="#000">
<circle cx="1106.5" cy="92.1" r="17.1"/>
<circle cx="1126.8" cy="241" r="17.1"/>
<circle cx="1147" cy="326" r="17.1"/>
<circle cx="1166.8" cy="389.8" r="17.1"/>
<circle cx="1186" cy="428" r="17.1"/>
<circle cx="1223" cy="475.8" r="17.1"/>
<circle cx="1258.7" cy="504.7" r="17.1"/>
<circle cx="1292.7" cy="522.2" r="17.1"/>
<circle cx="1340.8" cy="539.7" r="17.1"/>
<circle cx="1400.3" cy="551.6" r="17.1"/>
<circle cx="1455.8" cy="559.2" r="17.1"/>
<circle cx="1530.3" cy="568.9" r="17.1"/>
<circle cx="1619" cy="575.9" r="17.1"/>
<circle cx="1728.4" cy="580.9" r="17.1"/>
</g>
<polyline fill="none" stroke="#0000ff" stroke-width="3.7" points="1106.5,103.5 1109.1,118.9 1111.7,134.0 1114.2,148.7 1116.8,163.3 1119.4,177.9 1122.0,192.8 1124.5,207.5 1127.1,221.8 1129.7,235.9 1132.3,249.5 1134.8,262.0 1137.4,273.5 1140.0,284.3 1142.6,295.0 1145.2,305.7 1147.7,316.4 1150.3,327.0 1152.9,337.1 1155.5,346.5 1158.0,355.3 1160.6,363.7 1163.2,371.6 1165.8,379.0 1168.4,385.9 1170.9,392.5 1173.5,398.6 1176.1,404.2 1178.7,409.2 1181.2,413.9 1183.8,418.3 1186.4,422.7 1189.0,427.2 1191.5,431.9 1194.1,436.5 1196.7,441.2 1199.3,445.8 1201.9,450.3 1204.4,454.5 1207.0,458.5 1209.6,462.1 1212.2,465.5 1214.7,468.6 1217.3,471.6 1219.9,474.5 1222.5,477.3 1225.1,479.9 1227.6,482.4 1230.2,484.9 1232.8,487.3 1235.4,489.6 1237.9,491.8 1240.5,494.0 1243.1,496.0 1245.7,498.1 1248.2,500.0 1250.8,501.9 1253.4,503.7 1256.0,505.4 1258.6,507.1 1261.1,508.8 1263.7,510.4 1266.3,512.0 1268.9,513.5 1271.4,514.9 1274.0,516.2 1276.6,517.5 1279.2,518.7 1281.8,519.9 1284.3,521.0 1286.9,522.1 1289.5,523.2 1292.1,524.2 1294.6,525.2 1297.2,526.2 1299.8,527.2 1302.4,528.2 1304.9,529.1 1307.5,530.1 1310.1,531.0 1312.7,532.0 1315.3,532.9 1317.8,533.9 1320.4,534.8 1323.0,535.8 1325.6,536.8 1328.1,537.7 1330.7,538.7 1333.3,539.7 1335.9,540.6 1338.4,541.6 1341.0,542.5 1343.6,543.4 1346.2,544.3 1348.8,545.2 1351.3,546.1 1353.9,546.9 1356.5,547.8 1359.1,548.5 1361.6,549.3 1364.2,550.0 1366.8,550.7 1369.4,551.4 1372.0,552.1 1374.5,552.8 1377.1,553.5 1379.7,554.1 1382.3,554.7 1384.8,555.3 1387.4,555.9 1390.0,556.5 1392.6,557.0 1395.1,557.6 1397.7,558.1 1400.3,558.6 1402.9,559.0 1405.5,559.5 1408.0,559.9 1410.6,560.3 1413.2,560.8 1415.8,561.2 1418.3,561.6 1420.9,561.9 1423.5,562.3 1426.1,562.7 1428.7,563.1 1431.2,563.4 1433.8,563.8 1436.4,564.1 1439.0,564.5 1441.5,564.8 1444.1,565.1 1446.7,565.5 1449.3,565.8 1451.8,566.2 1454.4,566.5 1457.0,566.9 1459.6,567.2 1462.2,567.6 1464.7,567.9 1467.3,568.2 1469.9,568.6 1472.5,568.9 1475.0,569.3 1477.6,569.6 1480.2,570.0 1482.8,570.3 1485.4,570.6 1487.9,571.0 1490.5,571.3 1493.1,571.6 1495.7,571.9 1498.2,572.3 1500.8,572.6 1503.4,572.9 1506.0,573.2 1508.5,573.5 1511.1,573.8 1513.7,574.1 1516.3,574.4 1518.9,574.7 1521.4,575.0 1524.0,575.3 1526.6,575.5 1529.2,575.8 1531.7,576.1 1534.3,576.4 1536.9,576.6 1539.5,576.9 1542.1,577.2 1544.6,577.4 1547.2,577.7 1549.8,578.0 1552.4,578.2 1554.9,578.5 1557.5,578.8 1560.1,579.0 1562.7,579.3 1565.2,579.6 1567.8,579.8 1570.4,580.1 1573.0,580.3 1575.6,580.6 1578.1,580.8 1580.7,581.0 1583.3,581.3 1585.9,581.5 1588.4,581.7 1591.0,581.9 1593.6,582.1 1596.2,582.3 1598.7,582.5 1601.3,582.7 1603.9,582.9 1606.5,583.1 1609.1,583.2 1611.6,583.4 1614.2,583.5 1616.8,583.7 1619.4,583.8 1621.9,583.9 1624.5,584.1 1627.1,584.2 1629.7,584.3 1632.3,584.4 1634.8,584.5 1637.4,584.6 1640.0,584.8 1642.6,584.9 1645.1,585.0 1647.7,585.1 1650.3,585.2 1652.9,585.3 1655.4,585.3 1658.0,585.4 1660.6,585.5 1663.2,585.6 1665.8,585.7 1668.3,585.8 1670.9,585.9 1673.5,586.0 1676.1,586.0 1678.6,586.1 1681.2,586.2 1683.8,586.3 1686.4,586.3 1689.0,586.4 1691.5,586.5 1694.1,586.6 1696.7,586.6 1699.3,586.7 1701.8,586.8 1704.4,586.9 1707.0,586.9 1709.6,587.0 1712.1,587.1 1714.7,587.1 1717.3,587.2 1719.9,587.3 1722.5,587.3 1725.0,587.4 1727.6,587.5 1730.2,587.6 1732.8,587.6 1735.3,587.7 1737.9,587.8 1740.5,587.8 1743.1,587.9 1745.7,588.0 1748.2,588.0 1750.8,588.1 1753.4,588.1 1756.0,588.2 1758.5,588.3 1761.1,588.3 1763.7,588.4 1766.3,588.4 1768.8,588.5 1771.4,588.5 1774.0,588.6"/>
<g font-size="72">
<text x="1049.5" y="671.3" text-anchor="end">0.0</text>
<text x="1049.5" y="559.8" text-anchor="end">0.2</text>
<text x="1049.5" y="448.3" text-anchor="end">0.4</text>
<text x="1049.5" y="336.7" text-anchor="end">0.6</text>
<text x="1049.5" y="225.2" text-anchor="end">0.8</text>
<text x="1049.5" y="113.7" text-anchor="end">1.0</text>
<text x="1106.5" y="740" text-anchor="middle">0</text>
<text x="1218.0" y="740" text-anchor="middle">1</text>
<text x="1329.4" y="740" text-anchor="middle">2</text>
<text x="1440.8" y="740" text-anchor="middle">3</text>
<text x="1552.3" y="740" text-anchor="middle">4</text>
<text x="1663.8" y="740" text-anchor="middle">5</text>
<text x="1428.5" y="820" text-anchor="middle">[Metronidazole]<tspan font-size="40" dy="22">T</tspan><tspan dy="-22"> / mM</tspan></text>
<text transform="translate(918.5,376) rotate(-90)" text-anchor="middle">Intensity at 570 nm</text>
</g>
</svg>
</body></html>
